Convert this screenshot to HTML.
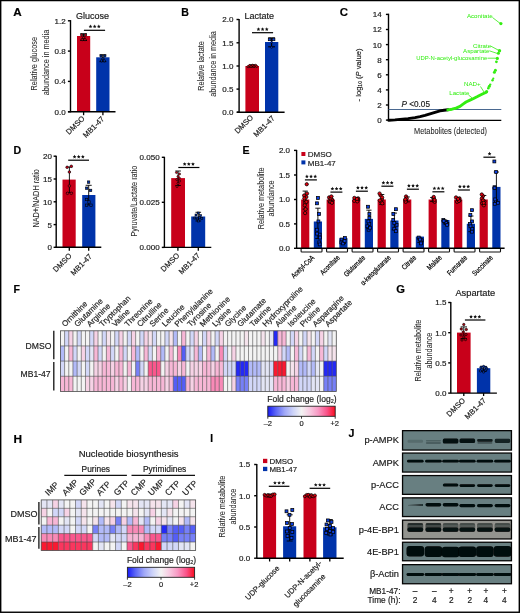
<!DOCTYPE html>
<html><head><meta charset="utf-8"><style>
html,body{margin:0;padding:0;background:#fff;}
body{width:520px;height:613px;overflow:hidden;position:relative;}
svg{position:absolute;left:0;top:0;will-change:transform;}
text{font-family:"Liberation Sans",sans-serif;}
</style></head><body>
<svg width="520" height="613" viewBox="0 0 520 613" font-family="Liberation Sans, sans-serif">
<text transform="translate(13.3,16.2) scale(1.1,1)" font-size="10.6" text-anchor="start" fill="#000" font-weight="bold" stroke="#000" stroke-width="0.18">A</text>
<text transform="translate(75.9,18.8)" font-size="9" text-anchor="start" fill="#1a1a1a" stroke="#1a1a1a" stroke-width="0.18">Glucose</text>
<rect x="77" y="36" width="13.2" height="75.8" fill="#c8001a"/>
<rect x="96.2" y="57.3" width="13.3" height="54.5" fill="#0033aa"/>
<line x1="70.5" y1="20.1" x2="70.5" y2="112.3" stroke="#000" stroke-width="1.4"/>
<line x1="67.9" y1="20.8" x2="70.5" y2="20.8" stroke="#000" stroke-width="1.4"/>
<text transform="translate(65.6,23.7)" font-size="8" text-anchor="end" fill="#1a1a1a" stroke="#1a1a1a" stroke-width="0.18">1.2</text>
<line x1="67.9" y1="51.1" x2="70.5" y2="51.1" stroke="#000" stroke-width="1.4"/>
<text transform="translate(65.6,54)" font-size="8" text-anchor="end" fill="#1a1a1a" stroke="#1a1a1a" stroke-width="0.18">0.8</text>
<line x1="67.9" y1="81.4" x2="70.5" y2="81.4" stroke="#000" stroke-width="1.4"/>
<text transform="translate(65.6,84.3)" font-size="8" text-anchor="end" fill="#1a1a1a" stroke="#1a1a1a" stroke-width="0.18">0.4</text>
<line x1="67.9" y1="111.7" x2="70.5" y2="111.7" stroke="#000" stroke-width="1.4"/>
<text transform="translate(65.6,114.6)" font-size="8" text-anchor="end" fill="#1a1a1a" stroke="#1a1a1a" stroke-width="0.18">0.0</text>
<line x1="68" y1="111.8" x2="115.5" y2="111.8" stroke="#000" stroke-width="1.4"/>
<line x1="83.6" y1="111.8" x2="83.6" y2="115.2" stroke="#000" stroke-width="1.3"/>
<line x1="102.9" y1="111.8" x2="102.9" y2="115.2" stroke="#000" stroke-width="1.3"/>
<line x1="83.9" y1="30.3" x2="105.1" y2="30.3" stroke="#000" stroke-width="1.2"/>
<polygon points="90.50,24.55 91.06,25.73 92.35,25.90 91.40,26.79 91.65,28.08 90.50,27.45 89.35,28.08 89.60,26.79 88.65,25.90 89.94,25.73" fill="#111"/>
<polygon points="94.65,24.55 95.21,25.73 96.50,25.90 95.55,26.79 95.80,28.08 94.65,27.45 93.50,28.08 93.75,26.79 92.80,25.90 94.09,25.73" fill="#111"/>
<polygon points="98.80,24.55 99.36,25.73 100.65,25.90 99.70,26.79 99.95,28.08 98.80,27.45 97.65,28.08 97.90,26.79 96.95,25.90 98.24,25.73" fill="#111"/>
<line x1="83.6" y1="33.8" x2="83.6" y2="40.4" stroke="#000" stroke-width="1.1"/>
<line x1="80.2" y1="33.8" x2="87" y2="33.8" stroke="#000" stroke-width="1.1"/>
<line x1="80.2" y1="40.4" x2="87" y2="40.4" stroke="#000" stroke-width="1.1"/>
<circle cx="81.7" cy="35" r="1.2" fill="#c8001a" stroke="#000" stroke-width="0.65"/>
<circle cx="85.5" cy="35" r="1.2" fill="#c8001a" stroke="#000" stroke-width="0.65"/>
<circle cx="83.6" cy="37.6" r="1.2" fill="#c8001a" stroke="#000" stroke-width="0.65"/>
<circle cx="82.2" cy="39.6" r="1.2" fill="#c8001a" stroke="#000" stroke-width="0.65"/>
<circle cx="85" cy="39.6" r="1.2" fill="#c8001a" stroke="#000" stroke-width="0.65"/>
<line x1="102.9" y1="54.8" x2="102.9" y2="61.6" stroke="#000" stroke-width="1.1"/>
<line x1="99.5" y1="54.8" x2="106.3" y2="54.8" stroke="#000" stroke-width="1.1"/>
<line x1="99.5" y1="61.6" x2="106.3" y2="61.6" stroke="#000" stroke-width="1.1"/>
<circle cx="101" cy="56" r="1.2" fill="#0033aa" stroke="#000" stroke-width="0.65"/>
<circle cx="104.8" cy="56" r="1.2" fill="#0033aa" stroke="#000" stroke-width="0.65"/>
<circle cx="102.9" cy="58.8" r="1.2" fill="#0033aa" stroke="#000" stroke-width="0.65"/>
<circle cx="101.5" cy="60.8" r="1.2" fill="#0033aa" stroke="#000" stroke-width="0.65"/>
<circle cx="104.3" cy="60.8" r="1.2" fill="#0033aa" stroke="#000" stroke-width="0.65"/>
<text transform="translate(37,63.7) rotate(-90) scale(0.81,1)" font-size="9" text-anchor="middle" fill="#2a2a2a" stroke="#2a2a2a" stroke-width="0.06">Relative glucose</text>
<text transform="translate(48.6,62.5) rotate(-90) scale(0.81,1)" font-size="9" text-anchor="middle" fill="#2a2a2a" stroke="#2a2a2a" stroke-width="0.06">abundance in media</text>
<text transform="translate(85.2,119) rotate(-45)" font-size="7.6" text-anchor="end" fill="#1a1a1a" stroke="#1a1a1a" stroke-width="0.18">DMSO</text>
<text transform="translate(104.8,119.5) rotate(-45)" font-size="7.6" text-anchor="end" fill="#1a1a1a" stroke="#1a1a1a" stroke-width="0.18">MB1-47</text>
<text transform="translate(181.3,15.8)" font-size="10.6" text-anchor="start" fill="#000" font-weight="bold" stroke="#000" stroke-width="0.18">B</text>
<text transform="translate(244.6,18.8)" font-size="9" text-anchor="start" fill="#1a1a1a" stroke="#1a1a1a" stroke-width="0.18">Lactate</text>
<rect x="245.4" y="66" width="13.6" height="46.2" fill="#c8001a"/>
<rect x="265" y="42" width="13.3" height="70.2" fill="#0033aa"/>
<line x1="239.1" y1="19" x2="239.1" y2="112.7" stroke="#000" stroke-width="1.4"/>
<line x1="236.5" y1="19.5" x2="239.1" y2="19.5" stroke="#000" stroke-width="1.4"/>
<text transform="translate(233.4,22.4)" font-size="8" text-anchor="end" fill="#1a1a1a" stroke="#1a1a1a" stroke-width="0.18">2.0</text>
<line x1="236.5" y1="42.8" x2="239.1" y2="42.8" stroke="#000" stroke-width="1.4"/>
<text transform="translate(233.4,45.7)" font-size="8" text-anchor="end" fill="#1a1a1a" stroke="#1a1a1a" stroke-width="0.18">1.5</text>
<line x1="236.5" y1="66" x2="239.1" y2="66" stroke="#000" stroke-width="1.4"/>
<text transform="translate(233.4,68.9)" font-size="8" text-anchor="end" fill="#1a1a1a" stroke="#1a1a1a" stroke-width="0.18">1.0</text>
<line x1="236.5" y1="89.1" x2="239.1" y2="89.1" stroke="#000" stroke-width="1.4"/>
<text transform="translate(233.4,92)" font-size="8" text-anchor="end" fill="#1a1a1a" stroke="#1a1a1a" stroke-width="0.18">0.5</text>
<line x1="236.5" y1="112.2" x2="239.1" y2="112.2" stroke="#000" stroke-width="1.4"/>
<text transform="translate(233.4,115.1)" font-size="8" text-anchor="end" fill="#1a1a1a" stroke="#1a1a1a" stroke-width="0.18">0.0</text>
<line x1="237" y1="112.2" x2="284.6" y2="112.2" stroke="#000" stroke-width="1.4"/>
<line x1="252" y1="32.7" x2="273.1" y2="32.7" stroke="#000" stroke-width="1.2"/>
<polygon points="258.45,27.35 259.01,28.53 260.30,28.70 259.35,29.59 259.60,30.88 258.45,30.25 257.30,30.88 257.55,29.59 256.60,28.70 257.89,28.53" fill="#111"/>
<polygon points="262.60,27.35 263.16,28.53 264.45,28.70 263.50,29.59 263.75,30.88 262.60,30.25 261.45,30.88 261.70,29.59 260.75,28.70 262.04,28.53" fill="#111"/>
<polygon points="266.75,27.35 267.31,28.53 268.60,28.70 267.65,29.59 267.90,30.88 266.75,30.25 265.60,30.88 265.85,29.59 264.90,28.70 266.19,28.53" fill="#111"/>
<line x1="252.1" y1="64.8" x2="252.1" y2="67" stroke="#000" stroke-width="1"/>
<line x1="249.1" y1="64.8" x2="255.1" y2="64.8" stroke="#000" stroke-width="1"/>
<line x1="249.1" y1="67" x2="255.1" y2="67" stroke="#000" stroke-width="1"/>
<circle cx="248.1" cy="66.6" r="1.15" fill="#d00010" stroke="#000" stroke-width="0.6"/>
<circle cx="249.6" cy="65.6" r="1.15" fill="#d00010" stroke="#000" stroke-width="0.6"/>
<circle cx="251.1" cy="66.4" r="1.15" fill="#d00010" stroke="#000" stroke-width="0.6"/>
<circle cx="252.6" cy="65.3" r="1.15" fill="#d00010" stroke="#000" stroke-width="0.6"/>
<circle cx="254.1" cy="66.2" r="1.15" fill="#d00010" stroke="#000" stroke-width="0.6"/>
<circle cx="255.6" cy="65.4" r="1.15" fill="#d00010" stroke="#000" stroke-width="0.6"/>
<circle cx="256.6" cy="66.4" r="1.15" fill="#d00010" stroke="#000" stroke-width="0.6"/>
<line x1="271.6" y1="37.9" x2="271.6" y2="46.8" stroke="#000" stroke-width="1.1"/>
<line x1="268.2" y1="37.9" x2="275" y2="37.9" stroke="#000" stroke-width="1.1"/>
<line x1="268.2" y1="46.8" x2="275" y2="46.8" stroke="#000" stroke-width="1.1"/>
<rect x="268.3" y="38.1" width="2.6" height="2.6" fill="#0a3ee0" stroke="#000" stroke-width="0.7"/>
<rect x="272.3" y="38.1" width="2.6" height="2.6" fill="#0a3ee0" stroke="#000" stroke-width="0.7"/>
<circle cx="271.6" cy="47.3" r="1" fill="#0a3ee0" stroke="#000" stroke-width="0.6"/>
<circle cx="271.6" cy="42.2" r="0.9" fill="#0a3ee0" stroke="#000" stroke-width="0.5"/>
<text transform="translate(204.1,66) rotate(-90) scale(0.81,1)" font-size="9" text-anchor="middle" fill="#2a2a2a" stroke="#2a2a2a" stroke-width="0.06">Relative lactate</text>
<text transform="translate(215.5,64) rotate(-90) scale(0.81,1)" font-size="9" text-anchor="middle" fill="#2a2a2a" stroke="#2a2a2a" stroke-width="0.06">abundance in media</text>
<text transform="translate(253.8,118) rotate(-45)" font-size="7.6" text-anchor="end" fill="#1a1a1a" stroke="#1a1a1a" stroke-width="0.18">DMSO</text>
<text transform="translate(275.3,118.7) rotate(-45)" font-size="7.6" text-anchor="end" fill="#1a1a1a" stroke="#1a1a1a" stroke-width="0.18">MB1-47</text>
<text transform="translate(339.8,16) scale(1.08,1)" font-size="10.6" text-anchor="start" fill="#000" font-weight="bold" stroke="#000" stroke-width="0.18">C</text>
<line x1="388.5" y1="13.7" x2="388.5" y2="120.8" stroke="#000" stroke-width="1.4"/>
<line x1="385.9" y1="14.4" x2="388.5" y2="14.4" stroke="#000" stroke-width="1.4"/>
<text transform="translate(381.6,17.3)" font-size="8" text-anchor="end" fill="#1a1a1a" stroke="#1a1a1a" stroke-width="0.18">14</text>
<line x1="385.9" y1="29.5" x2="388.5" y2="29.5" stroke="#000" stroke-width="1.4"/>
<text transform="translate(381.6,32.4)" font-size="8" text-anchor="end" fill="#1a1a1a" stroke="#1a1a1a" stroke-width="0.18">12</text>
<line x1="385.9" y1="44.6" x2="388.5" y2="44.6" stroke="#000" stroke-width="1.4"/>
<text transform="translate(381.6,47.5)" font-size="8" text-anchor="end" fill="#1a1a1a" stroke="#1a1a1a" stroke-width="0.18">10</text>
<line x1="385.9" y1="59.7" x2="388.5" y2="59.7" stroke="#000" stroke-width="1.4"/>
<text transform="translate(381.6,62.6)" font-size="8" text-anchor="end" fill="#1a1a1a" stroke="#1a1a1a" stroke-width="0.18">8</text>
<line x1="385.9" y1="74.8" x2="388.5" y2="74.8" stroke="#000" stroke-width="1.4"/>
<text transform="translate(381.6,77.7)" font-size="8" text-anchor="end" fill="#1a1a1a" stroke="#1a1a1a" stroke-width="0.18">6</text>
<line x1="385.9" y1="89.9" x2="388.5" y2="89.9" stroke="#000" stroke-width="1.4"/>
<text transform="translate(381.6,92.8)" font-size="8" text-anchor="end" fill="#1a1a1a" stroke="#1a1a1a" stroke-width="0.18">4</text>
<line x1="385.9" y1="105" x2="388.5" y2="105" stroke="#000" stroke-width="1.4"/>
<text transform="translate(381.6,107.9)" font-size="8" text-anchor="end" fill="#1a1a1a" stroke="#1a1a1a" stroke-width="0.18">2</text>
<line x1="385.9" y1="120.1" x2="388.5" y2="120.1" stroke="#000" stroke-width="1.4"/>
<text transform="translate(381.6,123)" font-size="8" text-anchor="end" fill="#1a1a1a" stroke="#1a1a1a" stroke-width="0.18">0</text>
<line x1="388.5" y1="120.3" x2="501.3" y2="120.3" stroke="#000" stroke-width="1.3"/>
<line x1="388.5" y1="109.5" x2="501.3" y2="109.5" stroke="#4a6890" stroke-width="1"/>
<text transform="translate(360.5,75) rotate(-90)" font-size="7.6" text-anchor="middle" fill="#222" stroke="#222" stroke-width="0.18">- log<tspan font-size="5" dy="1.5">10</tspan><tspan dy="-1.5"> (</tspan><tspan font-style="italic">P</tspan> value)</text>
<text transform="translate(401.5,107.2)" font-size="8.2" text-anchor="start" fill="#222" stroke="#222" stroke-width="0.18"><tspan font-style="italic">P</tspan> &lt;0.05</text>
<text transform="translate(450.5,133.5) scale(0.82,1)" font-size="9" text-anchor="middle" fill="#222" stroke="#222" stroke-width="0.06">Metabolites (detected)</text>
<polyline points="388.8,120.3 395.0,119.9 400.0,119.4 408.0,118.6 415.0,117.6 420.0,116.6 425.0,115.3 430.0,113.8 435.0,112.3 440.0,110.9 444.0,110.2 448.2,109.7" fill="none" stroke="#000" stroke-width="2.9" stroke-linecap="round" stroke-linejoin="round"/>
<polyline points="447.8,109.9 452.0,109.2 456.0,108.1 460.0,106.4 463.0,104.1 466.0,102.0 470.0,100.1 473.6,98.5 477.0,96.8 480.4,95.0 483.5,93.5 486.4,92.2" fill="none" stroke="#33ee11" stroke-width="2.9" stroke-linecap="round" stroke-linejoin="round"/>
<circle cx="486.6" cy="91.6" r="1.6" fill="#33ee11" stroke="none" stroke-width="0"/>
<circle cx="488.3" cy="88.2" r="1.3" fill="#33ee11" stroke="none" stroke-width="0"/>
<circle cx="489.3" cy="86.2" r="1.5" fill="#33ee11" stroke="none" stroke-width="0"/>
<circle cx="490.2" cy="84.6" r="1.2" fill="#33ee11" stroke="none" stroke-width="0"/>
<circle cx="492.5" cy="80.2" r="1.2" fill="#33ee11" stroke="none" stroke-width="0"/>
<circle cx="493.3" cy="78.6" r="1.1" fill="#33ee11" stroke="none" stroke-width="0"/>
<circle cx="494.4" cy="72.3" r="1.5" fill="#33ee11" stroke="none" stroke-width="0"/>
<circle cx="495.4" cy="70.2" r="1.5" fill="#33ee11" stroke="none" stroke-width="0"/>
<circle cx="496.4" cy="61.8" r="1.4" fill="#33ee11" stroke="none" stroke-width="0"/>
<circle cx="497.3" cy="58.4" r="1.6" fill="#33ee11" stroke="none" stroke-width="0"/>
<circle cx="498.4" cy="53.2" r="1.5" fill="#33ee11" stroke="none" stroke-width="0"/>
<circle cx="499.5" cy="50.8" r="1.7" fill="#33ee11" stroke="none" stroke-width="0"/>
<circle cx="500.9" cy="23.6" r="1.6" fill="#33ee11" stroke="none" stroke-width="0"/>
<text transform="translate(466.9,18.2)" font-size="6.2" text-anchor="start" fill="#33ee11" stroke="#33ee11" stroke-width="0.01">Aconitate</text>
<line x1="492.5" y1="17.5" x2="500" y2="23.3" stroke="#33ee11" stroke-width="0.8"/>
<text transform="translate(473,47.6)" font-size="6.2" text-anchor="start" fill="#33ee11" stroke="#33ee11" stroke-width="0.01">Citrate</text>
<line x1="490.6" y1="46" x2="499.2" y2="50.6" stroke="#33ee11" stroke-width="0.8"/>
<text transform="translate(463,52.5)" font-size="6.2" text-anchor="start" fill="#33ee11" stroke="#33ee11" stroke-width="0.01">Aspartate</text>
<line x1="489.3" y1="50.8" x2="497.8" y2="53.6" stroke="#33ee11" stroke-width="0.8"/>
<text transform="translate(487.2,60.2)" font-size="5.9" text-anchor="end" fill="#33ee11" stroke="#33ee11" stroke-width="0.01">UDP-N-acetyl-glucosamine</text>
<line x1="487.5" y1="58.2" x2="496.8" y2="58.2" stroke="#33ee11" stroke-width="0.8"/>
<text transform="translate(464,86.2)" font-size="6.2" text-anchor="start" fill="#33ee11" stroke="#33ee11" stroke-width="0.01">NAD+</text>
<line x1="480.5" y1="86.5" x2="484" y2="92" stroke="#33ee11" stroke-width="0.8"/>
<text transform="translate(449.2,94.8)" font-size="6.2" text-anchor="start" fill="#33ee11" stroke="#33ee11" stroke-width="0.01">Lactate</text>
<line x1="468.5" y1="95" x2="472.5" y2="98.2" stroke="#33ee11" stroke-width="0.8"/>
<text transform="translate(13.6,154)" font-size="10.6" text-anchor="start" fill="#000" font-weight="bold" stroke="#000" stroke-width="0.18">D</text>
<rect x="62.5" y="179.6" width="13.2" height="67.7" fill="#c8001a"/>
<rect x="82.2" y="195" width="13.2" height="52.3" fill="#0033aa"/>
<line x1="56.2" y1="155.7" x2="56.2" y2="247.8" stroke="#000" stroke-width="1.4"/>
<line x1="53.6" y1="156.2" x2="56.2" y2="156.2" stroke="#000" stroke-width="1.4"/>
<text transform="translate(52,159.1)" font-size="8" text-anchor="end" fill="#1a1a1a" stroke="#1a1a1a" stroke-width="0.18">20</text>
<line x1="53.6" y1="179" x2="56.2" y2="179" stroke="#000" stroke-width="1.4"/>
<text transform="translate(52,181.9)" font-size="8" text-anchor="end" fill="#1a1a1a" stroke="#1a1a1a" stroke-width="0.18">15</text>
<line x1="53.6" y1="201.8" x2="56.2" y2="201.8" stroke="#000" stroke-width="1.4"/>
<text transform="translate(52,204.7)" font-size="8" text-anchor="end" fill="#1a1a1a" stroke="#1a1a1a" stroke-width="0.18">10</text>
<line x1="53.6" y1="224.6" x2="56.2" y2="224.6" stroke="#000" stroke-width="1.4"/>
<text transform="translate(52,227.5)" font-size="8" text-anchor="end" fill="#1a1a1a" stroke="#1a1a1a" stroke-width="0.18">5</text>
<line x1="53.6" y1="247.3" x2="56.2" y2="247.3" stroke="#000" stroke-width="1.4"/>
<text transform="translate(52,250.2)" font-size="8" text-anchor="end" fill="#1a1a1a" stroke="#1a1a1a" stroke-width="0.18">0</text>
<line x1="55.5" y1="247.3" x2="101.3" y2="247.3" stroke="#000" stroke-width="1.4"/>
<line x1="69.3" y1="247.3" x2="69.3" y2="250.7" stroke="#000" stroke-width="1.3"/>
<line x1="88.7" y1="247.3" x2="88.7" y2="250.7" stroke="#000" stroke-width="1.3"/>
<line x1="68.2" y1="160.2" x2="89" y2="160.2" stroke="#000" stroke-width="1.2"/>
<polygon points="74.55,154.85 75.11,156.03 76.40,156.20 75.45,157.09 75.70,158.38 74.55,157.75 73.40,158.38 73.65,157.09 72.70,156.20 73.99,156.03" fill="#111"/>
<polygon points="78.70,154.85 79.26,156.03 80.55,156.20 79.60,157.09 79.85,158.38 78.70,157.75 77.55,158.38 77.80,157.09 76.85,156.20 78.14,156.03" fill="#111"/>
<polygon points="82.85,154.85 83.41,156.03 84.70,156.20 83.75,157.09 84.00,158.38 82.85,157.75 81.70,158.38 81.95,157.09 81.00,156.20 82.29,156.03" fill="#111"/>
<line x1="69.4" y1="167" x2="69.4" y2="192.5" stroke="#000" stroke-width="0.9"/>
<line x1="66.4" y1="167" x2="72.4" y2="167" stroke="#000" stroke-width="0.9"/>
<line x1="66.4" y1="192.5" x2="72.4" y2="192.5" stroke="#000" stroke-width="0.9"/>
<circle cx="67.1" cy="167.3" r="1.3" fill="#c8001a" stroke="#000" stroke-width="0.6"/>
<circle cx="71.3" cy="166.3" r="1.3" fill="#c8001a" stroke="#000" stroke-width="0.6"/>
<circle cx="69.4" cy="172" r="1.3" fill="#c8001a" stroke="#000" stroke-width="0.6"/>
<circle cx="69.4" cy="185.9" r="1.3" fill="#c8001a" stroke="#000" stroke-width="0.6"/>
<circle cx="67.5" cy="193.3" r="1.3" fill="#c8001a" stroke="#000" stroke-width="0.6"/>
<circle cx="71.3" cy="193.3" r="1.3" fill="#c8001a" stroke="#000" stroke-width="0.6"/>
<line x1="88.7" y1="185.3" x2="88.7" y2="205" stroke="#000" stroke-width="0.9"/>
<line x1="85.7" y1="185.3" x2="91.7" y2="185.3" stroke="#000" stroke-width="0.9"/>
<line x1="85.7" y1="205" x2="91.7" y2="205" stroke="#000" stroke-width="0.9"/>
<rect x="87.4" y="180.9" width="2.4" height="2.4" fill="#0033aa" stroke="#000" stroke-width="0.6"/>
<rect x="85.5" y="187" width="2.4" height="2.4" fill="#0033aa" stroke="#000" stroke-width="0.6"/>
<rect x="89.4" y="189.2" width="2.4" height="2.4" fill="#0033aa" stroke="#000" stroke-width="0.6"/>
<rect x="85.4" y="198.3" width="2.4" height="2.4" fill="#0033aa" stroke="#000" stroke-width="0.6"/>
<rect x="87.8" y="200.8" width="2.4" height="2.4" fill="#0033aa" stroke="#000" stroke-width="0.6"/>
<rect x="85.4" y="204" width="2.4" height="2.4" fill="#0033aa" stroke="#000" stroke-width="0.6"/>
<rect x="89.8" y="204" width="2.4" height="2.4" fill="#0033aa" stroke="#000" stroke-width="0.6"/>
<text transform="translate(39.4,198.4) rotate(-90) scale(0.81,1)" font-size="9" text-anchor="middle" fill="#2a2a2a" stroke="#2a2a2a" stroke-width="0.06">NAD+/NADH ratio</text>
<text transform="translate(72.2,256.4) rotate(-45)" font-size="7.6" text-anchor="end" fill="#1a1a1a" stroke="#1a1a1a" stroke-width="0.18">DMSO</text>
<text transform="translate(92.5,257.1) rotate(-45)" font-size="7.6" text-anchor="end" fill="#1a1a1a" stroke="#1a1a1a" stroke-width="0.18">MB1-47</text>
<rect x="171.2" y="178.1" width="13.8" height="69.3" fill="#c8001a"/>
<rect x="191.2" y="216.5" width="14" height="30.9" fill="#0033aa"/>
<line x1="164.4" y1="156.8" x2="164.4" y2="247.9" stroke="#000" stroke-width="1.4"/>
<line x1="161.8" y1="157.3" x2="164.4" y2="157.3" stroke="#000" stroke-width="1.4"/>
<text transform="translate(159.6,160.2)" font-size="8" text-anchor="end" fill="#1a1a1a" stroke="#1a1a1a" stroke-width="0.18">0.050</text>
<line x1="161.8" y1="202.3" x2="164.4" y2="202.3" stroke="#000" stroke-width="1.4"/>
<text transform="translate(159.6,205.2)" font-size="8" text-anchor="end" fill="#1a1a1a" stroke="#1a1a1a" stroke-width="0.18">0.025</text>
<line x1="161.8" y1="247.4" x2="164.4" y2="247.4" stroke="#000" stroke-width="1.4"/>
<text transform="translate(159.6,250.3)" font-size="8" text-anchor="end" fill="#1a1a1a" stroke="#1a1a1a" stroke-width="0.18">0.000</text>
<line x1="163.3" y1="247.4" x2="211.3" y2="247.4" stroke="#000" stroke-width="1.4"/>
<line x1="177.9" y1="247.4" x2="177.9" y2="250.8" stroke="#000" stroke-width="1.3"/>
<line x1="198.3" y1="247.4" x2="198.3" y2="250.8" stroke="#000" stroke-width="1.3"/>
<line x1="178.3" y1="167.5" x2="199.4" y2="167.5" stroke="#000" stroke-width="1.2"/>
<polygon points="184.65,162.15 185.21,163.33 186.50,163.50 185.55,164.39 185.80,165.68 184.65,165.05 183.50,165.68 183.75,164.39 182.80,163.50 184.09,163.33" fill="#111"/>
<polygon points="188.80,162.15 189.36,163.33 190.65,163.50 189.70,164.39 189.95,165.68 188.80,165.05 187.65,165.68 187.90,164.39 186.95,163.50 188.24,163.33" fill="#111"/>
<polygon points="192.95,162.15 193.51,163.33 194.80,163.50 193.85,164.39 194.10,165.68 192.95,165.05 191.80,165.68 192.05,164.39 191.10,163.50 192.39,163.33" fill="#111"/>
<line x1="178.1" y1="171" x2="178.1" y2="185.5" stroke="#000" stroke-width="0.9"/>
<line x1="175.3" y1="171" x2="180.9" y2="171" stroke="#000" stroke-width="0.9"/>
<line x1="175.3" y1="185.5" x2="180.9" y2="185.5" stroke="#000" stroke-width="0.9"/>
<circle cx="176.5" cy="172.5" r="1.1" fill="#c8001a" stroke="#000" stroke-width="0.55"/>
<circle cx="179.5" cy="174" r="1.1" fill="#c8001a" stroke="#000" stroke-width="0.55"/>
<circle cx="178" cy="176.5" r="1.1" fill="#c8001a" stroke="#000" stroke-width="0.55"/>
<circle cx="176.8" cy="179.5" r="1.1" fill="#c8001a" stroke="#000" stroke-width="0.55"/>
<circle cx="179.6" cy="181" r="1.1" fill="#c8001a" stroke="#000" stroke-width="0.55"/>
<circle cx="178" cy="183.5" r="1.1" fill="#c8001a" stroke="#000" stroke-width="0.55"/>
<circle cx="177" cy="186.5" r="1.1" fill="#c8001a" stroke="#000" stroke-width="0.55"/>
<circle cx="179.3" cy="178" r="1.1" fill="#c8001a" stroke="#000" stroke-width="0.55"/>
<line x1="198.3" y1="212.3" x2="198.3" y2="221" stroke="#000" stroke-width="0.9"/>
<line x1="195.5" y1="212.3" x2="201.1" y2="212.3" stroke="#000" stroke-width="0.9"/>
<line x1="195.5" y1="221" x2="201.1" y2="221" stroke="#000" stroke-width="0.9"/>
<rect x="195" y="214" width="2" height="2" fill="#0033aa" stroke="#000" stroke-width="0.55"/>
<rect x="197.3" y="212" width="2" height="2" fill="#0033aa" stroke="#000" stroke-width="0.55"/>
<rect x="199.6" y="214.6" width="2" height="2" fill="#0033aa" stroke="#000" stroke-width="0.55"/>
<rect x="193.8" y="217" width="2" height="2" fill="#0033aa" stroke="#000" stroke-width="0.55"/>
<rect x="196.2" y="218" width="2" height="2" fill="#0033aa" stroke="#000" stroke-width="0.55"/>
<rect x="198.6" y="216.8" width="2" height="2" fill="#0033aa" stroke="#000" stroke-width="0.55"/>
<rect x="200.8" y="217.6" width="2" height="2" fill="#0033aa" stroke="#000" stroke-width="0.55"/>
<rect x="197.3" y="220" width="2" height="2" fill="#0033aa" stroke="#000" stroke-width="0.55"/>
<text transform="translate(137,201.1) rotate(-90) scale(0.81,1)" font-size="9" text-anchor="middle" fill="#2a2a2a" stroke="#2a2a2a" stroke-width="0.06">Pyruvate/Lactate ratio</text>
<text transform="translate(179.9,256.1) rotate(-45)" font-size="7.6" text-anchor="end" fill="#1a1a1a" stroke="#1a1a1a" stroke-width="0.18">DMSO</text>
<text transform="translate(200.5,256) rotate(-45)" font-size="7.6" text-anchor="end" fill="#1a1a1a" stroke="#1a1a1a" stroke-width="0.18">MB1-47</text>
<text transform="translate(242.6,153.6)" font-size="10.6" text-anchor="start" fill="#000" font-weight="bold" stroke="#000" stroke-width="0.18">E</text>
<line x1="296.6" y1="149.9" x2="296.6" y2="248.8" stroke="#000" stroke-width="1.4"/>
<line x1="294" y1="150.4" x2="296.6" y2="150.4" stroke="#000" stroke-width="1.4"/>
<text transform="translate(290,153.3)" font-size="8" text-anchor="end" fill="#1a1a1a" stroke="#1a1a1a" stroke-width="0.18">2.0</text>
<line x1="294" y1="175" x2="296.6" y2="175" stroke="#000" stroke-width="1.4"/>
<text transform="translate(290,177.9)" font-size="8" text-anchor="end" fill="#1a1a1a" stroke="#1a1a1a" stroke-width="0.18">1.5</text>
<line x1="294" y1="199.5" x2="296.6" y2="199.5" stroke="#000" stroke-width="1.4"/>
<text transform="translate(290,202.4)" font-size="8" text-anchor="end" fill="#1a1a1a" stroke="#1a1a1a" stroke-width="0.18">1.0</text>
<line x1="294" y1="223.9" x2="296.6" y2="223.9" stroke="#000" stroke-width="1.4"/>
<text transform="translate(290,226.8)" font-size="8" text-anchor="end" fill="#1a1a1a" stroke="#1a1a1a" stroke-width="0.18">0.5</text>
<line x1="294" y1="248.3" x2="296.6" y2="248.3" stroke="#000" stroke-width="1.4"/>
<text transform="translate(290,251.2)" font-size="8" text-anchor="end" fill="#1a1a1a" stroke="#1a1a1a" stroke-width="0.18">0.0</text>
<rect x="301.4" y="152" width="4" height="4" fill="#c8001a"/>
<text transform="translate(307.8,157.2)" font-size="8" text-anchor="start" fill="#222" stroke="#222" stroke-width="0.18">DMSO</text>
<rect x="301.4" y="160.4" width="4" height="4" fill="#0033aa"/>
<text transform="translate(307.8,165.5)" font-size="8" text-anchor="start" fill="#222" stroke="#222" stroke-width="0.18">MB1-47</text>
<rect x="301.1" y="199.5" width="8.2" height="48.8" fill="#c8001a"/>
<rect x="313.8" y="221.5" width="8.2" height="26.8" fill="#0033aa"/>
<line x1="305.2" y1="191.09" x2="305.2" y2="209.18" stroke="#000" stroke-width="0.9"/>
<line x1="302.6" y1="191.09" x2="307.8" y2="191.09" stroke="#000" stroke-width="0.9"/>
<line x1="302.6" y1="209.18" x2="307.8" y2="209.18" stroke="#000" stroke-width="0.9"/>
<line x1="317.9" y1="208.2" x2="317.9" y2="238.52" stroke="#000" stroke-width="0.9"/>
<line x1="315.3" y1="208.2" x2="320.5" y2="208.2" stroke="#000" stroke-width="0.9"/>
<line x1="315.3" y1="238.52" x2="320.5" y2="238.52" stroke="#000" stroke-width="0.9"/>
<circle cx="306.72" cy="184.24" r="1.65" fill="#e00010" stroke="#000" stroke-width="0.75"/>
<circle cx="306.33" cy="196.96" r="1.65" fill="#e00010" stroke="#000" stroke-width="0.75"/>
<circle cx="304.85" cy="200.38" r="1.65" fill="#e00010" stroke="#000" stroke-width="0.75"/>
<circle cx="304.14" cy="195.49" r="1.65" fill="#e00010" stroke="#000" stroke-width="0.75"/>
<circle cx="305.25" cy="202.82" r="1.65" fill="#e00010" stroke="#000" stroke-width="0.75"/>
<circle cx="304.78" cy="205.27" r="1.65" fill="#e00010" stroke="#000" stroke-width="0.75"/>
<circle cx="306.45" cy="201.85" r="1.65" fill="#e00010" stroke="#000" stroke-width="0.75"/>
<circle cx="304.33" cy="198.42" r="1.65" fill="#e00010" stroke="#000" stroke-width="0.75"/>
<circle cx="305.1" cy="213.09" r="1.65" fill="#e00010" stroke="#000" stroke-width="0.75"/>
<circle cx="305.57" cy="209.18" r="1.65" fill="#e00010" stroke="#000" stroke-width="0.75"/>
<circle cx="307" cy="193.53" r="1.65" fill="#e00010" stroke="#000" stroke-width="0.75"/>
<rect x="316.47" y="196.48" width="2.9" height="2.9" fill="#0a3ee0" stroke="#000" stroke-width="0.75"/>
<rect x="315.49" y="201.86" width="2.9" height="2.9" fill="#0a3ee0" stroke="#000" stroke-width="0.75"/>
<rect x="317.58" y="212.62" width="2.9" height="2.9" fill="#0a3ee0" stroke="#000" stroke-width="0.75"/>
<rect x="316.97" y="219.96" width="2.9" height="2.9" fill="#0a3ee0" stroke="#000" stroke-width="0.75"/>
<rect x="315.35" y="228.27" width="2.9" height="2.9" fill="#0a3ee0" stroke="#000" stroke-width="0.75"/>
<rect x="318.25" y="233.16" width="2.9" height="2.9" fill="#0a3ee0" stroke="#000" stroke-width="0.75"/>
<rect x="318.57" y="236.09" width="2.9" height="2.9" fill="#0a3ee0" stroke="#000" stroke-width="0.75"/>
<rect x="317.81" y="240.98" width="2.9" height="2.9" fill="#0a3ee0" stroke="#000" stroke-width="0.75"/>
<rect x="318.22" y="242.94" width="2.9" height="2.9" fill="#0a3ee0" stroke="#000" stroke-width="0.75"/>
<rect x="315.61" y="232.18" width="2.9" height="2.9" fill="#0a3ee0" stroke="#000" stroke-width="0.75"/>
<line x1="304.9" y1="179.9" x2="316.9" y2="179.9" stroke="#000" stroke-width="1.2"/>
<polygon points="306.90,174.55 307.46,175.73 308.75,175.90 307.80,176.79 308.05,178.08 306.90,177.45 305.75,178.08 306.00,176.79 305.05,175.90 306.34,175.73" fill="#111"/>
<polygon points="311.05,174.55 311.61,175.73 312.90,175.90 311.95,176.79 312.20,178.08 311.05,177.45 309.90,178.08 310.15,176.79 309.20,175.90 310.49,175.73" fill="#111"/>
<polygon points="315.20,174.55 315.76,175.73 317.05,175.90 316.10,176.79 316.35,178.08 315.20,177.45 314.05,178.08 314.30,176.79 313.35,175.90 314.64,175.73" fill="#111"/>
<path d="M301.1,248.3 V251.2 Q301.1,252 301.9,252 H321.2 Q322,252 322,251.2 V248.3" fill="none" stroke="#111" stroke-width="1.1"/>
<text transform="translate(314.7,258.2) rotate(-45) scale(0.8,1)" font-size="7.3" text-anchor="end" fill="#000" stroke="#000" stroke-width="0.2">Acetyl-CoA</text>
<rect x="326.6" y="199.5" width="8.2" height="48.8" fill="#c8001a"/>
<rect x="339.3" y="238.2" width="8.2" height="10.1" fill="#0033aa"/>
<line x1="330.7" y1="196.47" x2="330.7" y2="202.82" stroke="#000" stroke-width="0.9"/>
<line x1="328.1" y1="196.47" x2="333.3" y2="196.47" stroke="#000" stroke-width="0.9"/>
<line x1="328.1" y1="202.82" x2="333.3" y2="202.82" stroke="#000" stroke-width="0.9"/>
<line x1="343.4" y1="238.52" x2="343.4" y2="243.41" stroke="#000" stroke-width="0.9"/>
<line x1="340.8" y1="238.52" x2="346" y2="238.52" stroke="#000" stroke-width="0.9"/>
<line x1="340.8" y1="243.41" x2="346" y2="243.41" stroke="#000" stroke-width="0.9"/>
<circle cx="329.09" cy="197.44" r="1.65" fill="#e00010" stroke="#000" stroke-width="0.75"/>
<circle cx="332.23" cy="200.38" r="1.65" fill="#e00010" stroke="#000" stroke-width="0.75"/>
<circle cx="331.86" cy="199.4" r="1.65" fill="#e00010" stroke="#000" stroke-width="0.75"/>
<circle cx="329.62" cy="200.87" r="1.65" fill="#e00010" stroke="#000" stroke-width="0.75"/>
<circle cx="330.68" cy="198.42" r="1.65" fill="#e00010" stroke="#000" stroke-width="0.75"/>
<circle cx="330.48" cy="201.85" r="1.65" fill="#e00010" stroke="#000" stroke-width="0.75"/>
<circle cx="331.37" cy="196.47" r="1.65" fill="#e00010" stroke="#000" stroke-width="0.75"/>
<circle cx="331.97" cy="202.82" r="1.65" fill="#e00010" stroke="#000" stroke-width="0.75"/>
<rect x="340.16" y="238.05" width="2.9" height="2.9" fill="#0a3ee0" stroke="#000" stroke-width="0.75"/>
<rect x="339.87" y="240.98" width="2.9" height="2.9" fill="#0a3ee0" stroke="#000" stroke-width="0.75"/>
<rect x="343.43" y="236.58" width="2.9" height="2.9" fill="#0a3ee0" stroke="#000" stroke-width="0.75"/>
<rect x="341.65" y="241.96" width="2.9" height="2.9" fill="#0a3ee0" stroke="#000" stroke-width="0.75"/>
<rect x="343.1" y="239.52" width="2.9" height="2.9" fill="#0a3ee0" stroke="#000" stroke-width="0.75"/>
<line x1="330.4" y1="192.1" x2="342.4" y2="192.1" stroke="#000" stroke-width="1.2"/>
<polygon points="332.40,186.75 332.96,187.93 334.25,188.10 333.30,188.99 333.55,190.28 332.40,189.65 331.25,190.28 331.50,188.99 330.55,188.10 331.84,187.93" fill="#111"/>
<polygon points="336.55,186.75 337.11,187.93 338.40,188.10 337.45,188.99 337.70,190.28 336.55,189.65 335.40,190.28 335.65,188.99 334.70,188.10 335.99,187.93" fill="#111"/>
<polygon points="340.70,186.75 341.26,187.93 342.55,188.10 341.60,188.99 341.85,190.28 340.70,189.65 339.55,190.28 339.80,188.99 338.85,188.10 340.14,187.93" fill="#111"/>
<path d="M326.6,248.3 V251.2 Q326.6,252 327.4,252 H346.7 Q347.5,252 347.5,251.2 V248.3" fill="none" stroke="#111" stroke-width="1.1"/>
<text transform="translate(340.2,258.2) rotate(-45) scale(0.8,1)" font-size="7.3" text-anchor="end" fill="#000" stroke="#000" stroke-width="0.2">Aconitate</text>
<rect x="352.1" y="199.5" width="8.2" height="48.8" fill="#c8001a"/>
<rect x="364.8" y="218.9" width="8.2" height="29.4" fill="#0033aa"/>
<line x1="356.2" y1="197.44" x2="356.2" y2="201.36" stroke="#000" stroke-width="0.9"/>
<line x1="353.6" y1="197.44" x2="358.8" y2="197.44" stroke="#000" stroke-width="0.9"/>
<line x1="353.6" y1="201.36" x2="358.8" y2="201.36" stroke="#000" stroke-width="0.9"/>
<line x1="368.9" y1="210.16" x2="368.9" y2="228.74" stroke="#000" stroke-width="0.9"/>
<line x1="366.3" y1="210.16" x2="371.5" y2="210.16" stroke="#000" stroke-width="0.9"/>
<line x1="366.3" y1="228.74" x2="371.5" y2="228.74" stroke="#000" stroke-width="0.9"/>
<circle cx="358.21" cy="198.42" r="1.65" fill="#e00010" stroke="#000" stroke-width="0.75"/>
<circle cx="358.17" cy="199.89" r="1.65" fill="#e00010" stroke="#000" stroke-width="0.75"/>
<circle cx="354.25" cy="200.87" r="1.65" fill="#e00010" stroke="#000" stroke-width="0.75"/>
<circle cx="354.37" cy="197.93" r="1.65" fill="#e00010" stroke="#000" stroke-width="0.75"/>
<circle cx="357.68" cy="199.4" r="1.65" fill="#e00010" stroke="#000" stroke-width="0.75"/>
<circle cx="357.24" cy="201.36" r="1.65" fill="#e00010" stroke="#000" stroke-width="0.75"/>
<circle cx="356.95" cy="198.91" r="1.65" fill="#e00010" stroke="#000" stroke-width="0.75"/>
<rect x="366.61" y="205.29" width="2.9" height="2.9" fill="#0a3ee0" stroke="#000" stroke-width="0.75"/>
<rect x="367.92" y="212.62" width="2.9" height="2.9" fill="#0a3ee0" stroke="#000" stroke-width="0.75"/>
<rect x="367.92" y="216.53" width="2.9" height="2.9" fill="#0a3ee0" stroke="#000" stroke-width="0.75"/>
<rect x="367.81" y="222.4" width="2.9" height="2.9" fill="#0a3ee0" stroke="#000" stroke-width="0.75"/>
<rect x="365.95" y="224.85" width="2.9" height="2.9" fill="#0a3ee0" stroke="#000" stroke-width="0.75"/>
<rect x="367.14" y="228.27" width="2.9" height="2.9" fill="#0a3ee0" stroke="#000" stroke-width="0.75"/>
<rect x="366.98" y="219.96" width="2.9" height="2.9" fill="#0a3ee0" stroke="#000" stroke-width="0.75"/>
<rect x="368.43" y="226.31" width="2.9" height="2.9" fill="#0a3ee0" stroke="#000" stroke-width="0.75"/>
<line x1="355.9" y1="191.2" x2="367.9" y2="191.2" stroke="#000" stroke-width="1.2"/>
<polygon points="357.90,185.85 358.46,187.03 359.75,187.20 358.80,188.09 359.05,189.38 357.90,188.75 356.75,189.38 357.00,188.09 356.05,187.20 357.34,187.03" fill="#111"/>
<polygon points="362.05,185.85 362.61,187.03 363.90,187.20 362.95,188.09 363.20,189.38 362.05,188.75 360.90,189.38 361.15,188.09 360.20,187.20 361.49,187.03" fill="#111"/>
<polygon points="366.20,185.85 366.76,187.03 368.05,187.20 367.10,188.09 367.35,189.38 366.20,188.75 365.05,189.38 365.30,188.09 364.35,187.20 365.64,187.03" fill="#111"/>
<path d="M352.1,248.3 V251.2 Q352.1,252 352.9,252 H372.2 Q373,252 373,251.2 V248.3" fill="none" stroke="#111" stroke-width="1.1"/>
<text transform="translate(365.7,258.2) rotate(-45) scale(0.8,1)" font-size="7.3" text-anchor="end" fill="#000" stroke="#000" stroke-width="0.2">Glutamate</text>
<rect x="377.6" y="199.5" width="8.2" height="48.8" fill="#c8001a"/>
<rect x="390.3" y="220.5" width="8.2" height="27.8" fill="#0033aa"/>
<line x1="381.7" y1="194.51" x2="381.7" y2="204.29" stroke="#000" stroke-width="0.9"/>
<line x1="379.1" y1="194.51" x2="384.3" y2="194.51" stroke="#000" stroke-width="0.9"/>
<line x1="379.1" y1="204.29" x2="384.3" y2="204.29" stroke="#000" stroke-width="0.9"/>
<line x1="394.4" y1="213.09" x2="394.4" y2="229.72" stroke="#000" stroke-width="0.9"/>
<line x1="391.8" y1="213.09" x2="397" y2="213.09" stroke="#000" stroke-width="0.9"/>
<line x1="391.8" y1="229.72" x2="397" y2="229.72" stroke="#000" stroke-width="0.9"/>
<circle cx="380.55" cy="195.49" r="1.65" fill="#e00010" stroke="#000" stroke-width="0.75"/>
<circle cx="381.89" cy="199.4" r="1.65" fill="#e00010" stroke="#000" stroke-width="0.75"/>
<circle cx="381.13" cy="201.85" r="1.65" fill="#e00010" stroke="#000" stroke-width="0.75"/>
<circle cx="382.16" cy="197.44" r="1.65" fill="#e00010" stroke="#000" stroke-width="0.75"/>
<circle cx="382.25" cy="203.31" r="1.65" fill="#e00010" stroke="#000" stroke-width="0.75"/>
<circle cx="379.79" cy="200.38" r="1.65" fill="#e00010" stroke="#000" stroke-width="0.75"/>
<circle cx="379.56" cy="193.53" r="1.65" fill="#e00010" stroke="#000" stroke-width="0.75"/>
<rect x="394.43" y="207.73" width="2.9" height="2.9" fill="#0a3ee0" stroke="#000" stroke-width="0.75"/>
<rect x="391.89" y="212.62" width="2.9" height="2.9" fill="#0a3ee0" stroke="#000" stroke-width="0.75"/>
<rect x="391.78" y="218.49" width="2.9" height="2.9" fill="#0a3ee0" stroke="#000" stroke-width="0.75"/>
<rect x="395.13" y="223.38" width="2.9" height="2.9" fill="#0a3ee0" stroke="#000" stroke-width="0.75"/>
<rect x="392.82" y="227.29" width="2.9" height="2.9" fill="#0a3ee0" stroke="#000" stroke-width="0.75"/>
<rect x="394.43" y="229.74" width="2.9" height="2.9" fill="#0a3ee0" stroke="#000" stroke-width="0.75"/>
<rect x="392.85" y="221.42" width="2.9" height="2.9" fill="#0a3ee0" stroke="#000" stroke-width="0.75"/>
<line x1="381.4" y1="186.2" x2="393.4" y2="186.2" stroke="#000" stroke-width="1.2"/>
<polygon points="383.40,180.85 383.96,182.03 385.25,182.20 384.30,183.09 384.55,184.38 383.40,183.75 382.25,184.38 382.50,183.09 381.55,182.20 382.84,182.03" fill="#111"/>
<polygon points="387.55,180.85 388.11,182.03 389.40,182.20 388.45,183.09 388.70,184.38 387.55,183.75 386.40,184.38 386.65,183.09 385.70,182.20 386.99,182.03" fill="#111"/>
<polygon points="391.70,180.85 392.26,182.03 393.55,182.20 392.60,183.09 392.85,184.38 391.70,183.75 390.55,184.38 390.80,183.09 389.85,182.20 391.14,182.03" fill="#111"/>
<path d="M377.6,248.3 V251.2 Q377.6,252 378.4,252 H397.7 Q398.5,252 398.5,251.2 V248.3" fill="none" stroke="#111" stroke-width="1.1"/>
<text transform="translate(391.2,258.2) rotate(-45) scale(0.8,1)" font-size="7.3" text-anchor="end" fill="#000" stroke="#000" stroke-width="0.2">α-ketoglutarate</text>
<rect x="403.1" y="199.5" width="8.2" height="48.8" fill="#c8001a"/>
<rect x="415.8" y="236.6" width="8.2" height="11.7" fill="#0033aa"/>
<line x1="407.2" y1="196.96" x2="407.2" y2="201.85" stroke="#000" stroke-width="0.9"/>
<line x1="404.6" y1="196.96" x2="409.8" y2="196.96" stroke="#000" stroke-width="0.9"/>
<line x1="404.6" y1="201.85" x2="409.8" y2="201.85" stroke="#000" stroke-width="0.9"/>
<line x1="419.9" y1="238.52" x2="419.9" y2="242.43" stroke="#000" stroke-width="0.9"/>
<line x1="417.3" y1="238.52" x2="422.5" y2="238.52" stroke="#000" stroke-width="0.9"/>
<line x1="417.3" y1="242.43" x2="422.5" y2="242.43" stroke="#000" stroke-width="0.9"/>
<circle cx="406.04" cy="196.47" r="1.65" fill="#e00010" stroke="#000" stroke-width="0.75"/>
<circle cx="405.45" cy="200.38" r="1.65" fill="#e00010" stroke="#000" stroke-width="0.75"/>
<circle cx="406.74" cy="198.42" r="1.65" fill="#e00010" stroke="#000" stroke-width="0.75"/>
<circle cx="405.68" cy="201.85" r="1.65" fill="#e00010" stroke="#000" stroke-width="0.75"/>
<circle cx="405.29" cy="199.4" r="1.65" fill="#e00010" stroke="#000" stroke-width="0.75"/>
<rect x="418.02" y="237.07" width="2.9" height="2.9" fill="#0a3ee0" stroke="#000" stroke-width="0.75"/>
<rect x="420.29" y="239.03" width="2.9" height="2.9" fill="#0a3ee0" stroke="#000" stroke-width="0.75"/>
<rect x="419.77" y="240.98" width="2.9" height="2.9" fill="#0a3ee0" stroke="#000" stroke-width="0.75"/>
<rect x="419.62" y="241.96" width="2.9" height="2.9" fill="#0a3ee0" stroke="#000" stroke-width="0.75"/>
<rect x="417.23" y="236.09" width="2.9" height="2.9" fill="#0a3ee0" stroke="#000" stroke-width="0.75"/>
<rect x="418.61" y="238.05" width="2.9" height="2.9" fill="#0a3ee0" stroke="#000" stroke-width="0.75"/>
<line x1="406.9" y1="189.2" x2="418.9" y2="189.2" stroke="#000" stroke-width="1.2"/>
<polygon points="408.90,183.85 409.46,185.03 410.75,185.20 409.80,186.09 410.05,187.38 408.90,186.75 407.75,187.38 408.00,186.09 407.05,185.20 408.34,185.03" fill="#111"/>
<polygon points="413.05,183.85 413.61,185.03 414.90,185.20 413.95,186.09 414.20,187.38 413.05,186.75 411.90,187.38 412.15,186.09 411.20,185.20 412.49,185.03" fill="#111"/>
<polygon points="417.20,183.85 417.76,185.03 419.05,185.20 418.10,186.09 418.35,187.38 417.20,186.75 416.05,187.38 416.30,186.09 415.35,185.20 416.64,185.03" fill="#111"/>
<path d="M403.1,248.3 V251.2 Q403.1,252 403.9,252 H423.2 Q424,252 424,251.2 V248.3" fill="none" stroke="#111" stroke-width="1.1"/>
<text transform="translate(416.7,258.2) rotate(-45) scale(0.8,1)" font-size="7.3" text-anchor="end" fill="#000" stroke="#000" stroke-width="0.2">Citrate</text>
<rect x="428.6" y="199.5" width="8.2" height="48.8" fill="#c8001a"/>
<rect x="441.3" y="220" width="8.2" height="28.3" fill="#0033aa"/>
<line x1="432.7" y1="197.44" x2="432.7" y2="201.36" stroke="#000" stroke-width="0.9"/>
<line x1="430.1" y1="197.44" x2="435.3" y2="197.44" stroke="#000" stroke-width="0.9"/>
<line x1="430.1" y1="201.36" x2="435.3" y2="201.36" stroke="#000" stroke-width="0.9"/>
<line x1="445.4" y1="220.43" x2="445.4" y2="223.85" stroke="#000" stroke-width="0.9"/>
<line x1="442.8" y1="220.43" x2="448" y2="220.43" stroke="#000" stroke-width="0.9"/>
<line x1="442.8" y1="223.85" x2="448" y2="223.85" stroke="#000" stroke-width="0.9"/>
<circle cx="433.24" cy="197.93" r="1.65" fill="#e00010" stroke="#000" stroke-width="0.75"/>
<circle cx="433.76" cy="200.87" r="1.65" fill="#e00010" stroke="#000" stroke-width="0.75"/>
<circle cx="434" cy="199.4" r="1.65" fill="#e00010" stroke="#000" stroke-width="0.75"/>
<circle cx="434.65" cy="201.85" r="1.65" fill="#e00010" stroke="#000" stroke-width="0.75"/>
<circle cx="433.76" cy="196.96" r="1.65" fill="#e00010" stroke="#000" stroke-width="0.75"/>
<circle cx="434.56" cy="199.89" r="1.65" fill="#e00010" stroke="#000" stroke-width="0.75"/>
<rect x="441.88" y="218.49" width="2.9" height="2.9" fill="#0a3ee0" stroke="#000" stroke-width="0.75"/>
<rect x="443.8" y="219.96" width="2.9" height="2.9" fill="#0a3ee0" stroke="#000" stroke-width="0.75"/>
<rect x="445.9" y="222.4" width="2.9" height="2.9" fill="#0a3ee0" stroke="#000" stroke-width="0.75"/>
<rect x="444.61" y="221.42" width="2.9" height="2.9" fill="#0a3ee0" stroke="#000" stroke-width="0.75"/>
<rect x="445.71" y="223.38" width="2.9" height="2.9" fill="#0a3ee0" stroke="#000" stroke-width="0.75"/>
<rect x="442.25" y="219.47" width="2.9" height="2.9" fill="#0a3ee0" stroke="#000" stroke-width="0.75"/>
<line x1="432.4" y1="191.8" x2="444.4" y2="191.8" stroke="#000" stroke-width="1.2"/>
<polygon points="434.40,186.45 434.96,187.63 436.25,187.80 435.30,188.69 435.55,189.98 434.40,189.35 433.25,189.98 433.50,188.69 432.55,187.80 433.84,187.63" fill="#111"/>
<polygon points="438.55,186.45 439.11,187.63 440.40,187.80 439.45,188.69 439.70,189.98 438.55,189.35 437.40,189.98 437.65,188.69 436.70,187.80 437.99,187.63" fill="#111"/>
<polygon points="442.70,186.45 443.26,187.63 444.55,187.80 443.60,188.69 443.85,189.98 442.70,189.35 441.55,189.98 441.80,188.69 440.85,187.80 442.14,187.63" fill="#111"/>
<path d="M428.6,248.3 V251.2 Q428.6,252 429.4,252 H448.7 Q449.5,252 449.5,251.2 V248.3" fill="none" stroke="#111" stroke-width="1.1"/>
<text transform="translate(442.2,258.2) rotate(-45) scale(0.8,1)" font-size="7.3" text-anchor="end" fill="#000" stroke="#000" stroke-width="0.2">Malate</text>
<rect x="454.1" y="199.5" width="8.2" height="48.8" fill="#c8001a"/>
<rect x="466.8" y="223.8" width="8.2" height="24.5" fill="#0033aa"/>
<line x1="458.2" y1="197.44" x2="458.2" y2="201.36" stroke="#000" stroke-width="0.9"/>
<line x1="455.6" y1="197.44" x2="460.8" y2="197.44" stroke="#000" stroke-width="0.9"/>
<line x1="455.6" y1="201.36" x2="460.8" y2="201.36" stroke="#000" stroke-width="0.9"/>
<line x1="470.9" y1="216.03" x2="470.9" y2="231.67" stroke="#000" stroke-width="0.9"/>
<line x1="468.3" y1="216.03" x2="473.5" y2="216.03" stroke="#000" stroke-width="0.9"/>
<line x1="468.3" y1="231.67" x2="473.5" y2="231.67" stroke="#000" stroke-width="0.9"/>
<circle cx="459.49" cy="198.42" r="1.65" fill="#e00010" stroke="#000" stroke-width="0.75"/>
<circle cx="459.62" cy="200.38" r="1.65" fill="#e00010" stroke="#000" stroke-width="0.75"/>
<circle cx="458.13" cy="199.4" r="1.65" fill="#e00010" stroke="#000" stroke-width="0.75"/>
<circle cx="457.15" cy="201.85" r="1.65" fill="#e00010" stroke="#000" stroke-width="0.75"/>
<circle cx="456" cy="197.44" r="1.65" fill="#e00010" stroke="#000" stroke-width="0.75"/>
<circle cx="458.92" cy="200.87" r="1.65" fill="#e00010" stroke="#000" stroke-width="0.75"/>
<circle cx="458.07" cy="198.91" r="1.65" fill="#e00010" stroke="#000" stroke-width="0.75"/>
<rect x="470.59" y="208.71" width="2.9" height="2.9" fill="#0a3ee0" stroke="#000" stroke-width="0.75"/>
<rect x="468.89" y="213.6" width="2.9" height="2.9" fill="#0a3ee0" stroke="#000" stroke-width="0.75"/>
<rect x="470.64" y="219.96" width="2.9" height="2.9" fill="#0a3ee0" stroke="#000" stroke-width="0.75"/>
<rect x="468.45" y="222.4" width="2.9" height="2.9" fill="#0a3ee0" stroke="#000" stroke-width="0.75"/>
<rect x="470.78" y="227.29" width="2.9" height="2.9" fill="#0a3ee0" stroke="#000" stroke-width="0.75"/>
<rect x="470.46" y="230.22" width="2.9" height="2.9" fill="#0a3ee0" stroke="#000" stroke-width="0.75"/>
<rect x="469.07" y="224.85" width="2.9" height="2.9" fill="#0a3ee0" stroke="#000" stroke-width="0.75"/>
<line x1="457.9" y1="190" x2="469.9" y2="190" stroke="#000" stroke-width="1.2"/>
<polygon points="459.90,184.65 460.46,185.83 461.75,186.00 460.80,186.89 461.05,188.18 459.90,187.55 458.75,188.18 459.00,186.89 458.05,186.00 459.34,185.83" fill="#111"/>
<polygon points="464.05,184.65 464.61,185.83 465.90,186.00 464.95,186.89 465.20,188.18 464.05,187.55 462.90,188.18 463.15,186.89 462.20,186.00 463.49,185.83" fill="#111"/>
<polygon points="468.20,184.65 468.76,185.83 470.05,186.00 469.10,186.89 469.35,188.18 468.20,187.55 467.05,188.18 467.30,186.89 466.35,186.00 467.64,185.83" fill="#111"/>
<path d="M454.1,248.3 V251.2 Q454.1,252 454.9,252 H474.2 Q475,252 475,251.2 V248.3" fill="none" stroke="#111" stroke-width="1.1"/>
<text transform="translate(467.7,258.2) rotate(-45) scale(0.8,1)" font-size="7.3" text-anchor="end" fill="#000" stroke="#000" stroke-width="0.2">Fumarate</text>
<rect x="479.6" y="199.5" width="8.2" height="48.8" fill="#c8001a"/>
<rect x="492.3" y="186.9" width="8.2" height="61.4" fill="#0033aa"/>
<line x1="483.7" y1="195.49" x2="483.7" y2="204.29" stroke="#000" stroke-width="0.9"/>
<line x1="481.1" y1="195.49" x2="486.3" y2="195.49" stroke="#000" stroke-width="0.9"/>
<line x1="481.1" y1="204.29" x2="486.3" y2="204.29" stroke="#000" stroke-width="0.9"/>
<line x1="496.4" y1="172.02" x2="496.4" y2="203.31" stroke="#000" stroke-width="0.9"/>
<line x1="493.8" y1="172.02" x2="499" y2="172.02" stroke="#000" stroke-width="0.9"/>
<line x1="493.8" y1="203.31" x2="499" y2="203.31" stroke="#000" stroke-width="0.9"/>
<circle cx="482.92" cy="195.98" r="1.65" fill="#e00010" stroke="#000" stroke-width="0.75"/>
<circle cx="482.16" cy="203.31" r="1.65" fill="#e00010" stroke="#000" stroke-width="0.75"/>
<circle cx="484.36" cy="201.36" r="1.65" fill="#e00010" stroke="#000" stroke-width="0.75"/>
<circle cx="481.82" cy="198.42" r="1.65" fill="#e00010" stroke="#000" stroke-width="0.75"/>
<circle cx="483.86" cy="205.27" r="1.65" fill="#e00010" stroke="#000" stroke-width="0.75"/>
<circle cx="483.11" cy="200.38" r="1.65" fill="#e00010" stroke="#000" stroke-width="0.75"/>
<circle cx="481.76" cy="194.51" r="1.65" fill="#e00010" stroke="#000" stroke-width="0.75"/>
<circle cx="483.73" cy="202.82" r="1.65" fill="#e00010" stroke="#000" stroke-width="0.75"/>
<rect x="492.91" y="160" width="2.9" height="2.9" fill="#0a3ee0" stroke="#000" stroke-width="0.75"/>
<rect x="494.66" y="170.57" width="2.9" height="2.9" fill="#0a3ee0" stroke="#000" stroke-width="0.75"/>
<rect x="493.06" y="185.73" width="2.9" height="2.9" fill="#0a3ee0" stroke="#000" stroke-width="0.75"/>
<rect x="493.15" y="186.7" width="2.9" height="2.9" fill="#0a3ee0" stroke="#000" stroke-width="0.75"/>
<rect x="494.62" y="199.42" width="2.9" height="2.9" fill="#0a3ee0" stroke="#000" stroke-width="0.75"/>
<rect x="496.39" y="201.37" width="2.9" height="2.9" fill="#0a3ee0" stroke="#000" stroke-width="0.75"/>
<rect x="493.29" y="202.35" width="2.9" height="2.9" fill="#0a3ee0" stroke="#000" stroke-width="0.75"/>
<rect x="493.73" y="197.95" width="2.9" height="2.9" fill="#0a3ee0" stroke="#000" stroke-width="0.75"/>
<line x1="483.4" y1="157.2" x2="495.4" y2="157.2" stroke="#000" stroke-width="1.2"/>
<polygon points="489.55,151.85 490.11,153.03 491.40,153.20 490.45,154.09 490.70,155.38 489.55,154.75 488.40,155.38 488.65,154.09 487.70,153.20 488.99,153.03" fill="#111"/>
<path d="M479.6,248.3 V251.2 Q479.6,252 480.4,252 H499.7 Q500.5,252 500.5,251.2 V248.3" fill="none" stroke="#111" stroke-width="1.1"/>
<text transform="translate(493.2,258.2) rotate(-45) scale(0.8,1)" font-size="7.3" text-anchor="end" fill="#000" stroke="#000" stroke-width="0.2">Succinate</text>
<line x1="296.6" y1="248.3" x2="504.6" y2="248.3" stroke="#000" stroke-width="1.4"/>
<text transform="translate(263.6,198.4) rotate(-90) scale(0.81,1)" font-size="9" text-anchor="middle" fill="#2a2a2a" stroke="#2a2a2a" stroke-width="0.06">Relative metabolite</text>
<text transform="translate(274.2,198.4) rotate(-90) scale(0.81,1)" font-size="9" text-anchor="middle" fill="#2a2a2a" stroke="#2a2a2a" stroke-width="0.06">abundance</text>
<text transform="translate(13.5,292.7)" font-size="10.6" text-anchor="start" fill="#000" font-weight="bold" stroke="#000" stroke-width="0.18">F</text>
<rect x="60.4" y="330.8" width="4.23" height="15.2" fill="#f3f3f3"/>
<rect x="64.58" y="330.8" width="4.23" height="15.2" fill="#d2d7f8"/>
<rect x="68.76" y="330.8" width="4.23" height="15.2" fill="#f6d2e5"/>
<rect x="72.94" y="330.8" width="4.23" height="15.2" fill="#f3f3f3"/>
<rect x="77.12" y="330.8" width="4.23" height="15.2" fill="#d2d7f8"/>
<rect x="81.3" y="330.8" width="4.23" height="15.2" fill="#f3f3f3"/>
<rect x="85.48" y="330.8" width="4.23" height="15.2" fill="#f3f3f3"/>
<rect x="89.66" y="330.8" width="4.23" height="15.2" fill="#d2d7f8"/>
<rect x="93.84" y="330.8" width="4.23" height="15.2" fill="#f6d2e5"/>
<rect x="98.02" y="330.8" width="4.23" height="15.2" fill="#f3f3f3"/>
<rect x="102.2" y="330.8" width="4.23" height="15.2" fill="#d2d7f8"/>
<rect x="106.38" y="330.8" width="4.23" height="15.2" fill="#f5e3ec"/>
<rect x="110.56" y="330.8" width="4.23" height="15.2" fill="#f3f3f3"/>
<rect x="114.74" y="330.8" width="4.23" height="15.2" fill="#d2d7f8"/>
<rect x="118.92" y="330.8" width="4.23" height="15.2" fill="#f6d2e5"/>
<rect x="123.1" y="330.8" width="4.23" height="15.2" fill="#f3f3f3"/>
<rect x="127.28" y="330.8" width="4.23" height="15.2" fill="#d2d7f8"/>
<rect x="131.46" y="330.8" width="4.23" height="15.2" fill="#f6d2e5"/>
<rect x="135.64" y="330.8" width="4.23" height="15.2" fill="#f3f3f3"/>
<rect x="139.82" y="330.8" width="4.23" height="15.2" fill="#d2d7f8"/>
<rect x="144" y="330.8" width="4.23" height="15.2" fill="#f6d2e5"/>
<rect x="148.18" y="330.8" width="4.23" height="15.2" fill="#f5e3ec"/>
<rect x="152.36" y="330.8" width="4.23" height="15.2" fill="#d2d7f8"/>
<rect x="156.54" y="330.8" width="4.23" height="15.2" fill="#f3f3f3"/>
<rect x="160.72" y="330.8" width="4.23" height="15.2" fill="#f3f3f3"/>
<rect x="164.9" y="330.8" width="4.23" height="15.2" fill="#d2d7f8"/>
<rect x="169.08" y="330.8" width="4.23" height="15.2" fill="#f5e3ec"/>
<rect x="173.26" y="330.8" width="4.23" height="15.2" fill="#b2baf8"/>
<rect x="177.44" y="330.8" width="4.23" height="15.2" fill="#f3f3f3"/>
<rect x="181.62" y="330.8" width="4.23" height="15.2" fill="#f7b7d6"/>
<rect x="185.8" y="330.8" width="4.23" height="15.2" fill="#f3f3f3"/>
<rect x="189.98" y="330.8" width="4.23" height="15.2" fill="#d2d7f8"/>
<rect x="194.16" y="330.8" width="4.23" height="15.2" fill="#f6d2e5"/>
<rect x="198.34" y="330.8" width="4.23" height="15.2" fill="#f3f3f3"/>
<rect x="202.52" y="330.8" width="4.23" height="15.2" fill="#d2d7f8"/>
<rect x="206.7" y="330.8" width="4.23" height="15.2" fill="#f6d2e5"/>
<rect x="210.88" y="330.8" width="4.23" height="15.2" fill="#f3f3f3"/>
<rect x="215.06" y="330.8" width="4.23" height="15.2" fill="#d2d7f8"/>
<rect x="219.24" y="330.8" width="4.23" height="15.2" fill="#f6d2e5"/>
<rect x="223.42" y="330.8" width="4.23" height="15.2" fill="#f3f3f3"/>
<rect x="227.6" y="330.8" width="4.23" height="15.2" fill="#f3f3f3"/>
<rect x="231.78" y="330.8" width="4.23" height="15.2" fill="#f3f3f3"/>
<rect x="235.96" y="330.8" width="4.23" height="15.2" fill="#f3f3f3"/>
<rect x="240.14" y="330.8" width="4.23" height="15.2" fill="#f3f3f3"/>
<rect x="244.32" y="330.8" width="4.23" height="15.2" fill="#f5e3ec"/>
<rect x="248.5" y="330.8" width="4.23" height="15.2" fill="#f3f3f3"/>
<rect x="252.68" y="330.8" width="4.23" height="15.2" fill="#f3f3f3"/>
<rect x="256.86" y="330.8" width="4.23" height="15.2" fill="#f3f3f3"/>
<rect x="261.04" y="330.8" width="4.23" height="15.2" fill="#f5e3ec"/>
<rect x="265.22" y="330.8" width="4.23" height="15.2" fill="#f3f3f3"/>
<rect x="269.4" y="330.8" width="4.23" height="15.2" fill="#e3e5f5"/>
<rect x="273.58" y="330.8" width="4.23" height="15.2" fill="#2429f6"/>
<rect x="277.76" y="330.8" width="4.23" height="15.2" fill="#f7b7d6"/>
<rect x="281.94" y="330.8" width="4.23" height="15.2" fill="#f7b7d6"/>
<rect x="286.12" y="330.8" width="4.23" height="15.2" fill="#f3f3f3"/>
<rect x="290.3" y="330.8" width="4.23" height="15.2" fill="#d2d7f8"/>
<rect x="294.48" y="330.8" width="4.23" height="15.2" fill="#f6d2e5"/>
<rect x="298.66" y="330.8" width="4.23" height="15.2" fill="#f3f3f3"/>
<rect x="302.84" y="330.8" width="4.23" height="15.2" fill="#d2d7f8"/>
<rect x="307.02" y="330.8" width="4.23" height="15.2" fill="#f5e3ec"/>
<rect x="311.2" y="330.8" width="4.23" height="15.2" fill="#f3f3f3"/>
<rect x="315.38" y="330.8" width="4.23" height="15.2" fill="#d2d7f8"/>
<rect x="319.56" y="330.8" width="4.23" height="15.2" fill="#f6d2e5"/>
<rect x="323.74" y="330.8" width="4.23" height="15.2" fill="#f3f3f3"/>
<rect x="327.92" y="330.8" width="4.23" height="15.2" fill="#e3e5f5"/>
<rect x="332.1" y="330.8" width="4.23" height="15.2" fill="#f3f3f3"/>
<rect x="60.4" y="345.95" width="4.23" height="15.2" fill="#b2baf8"/>
<rect x="64.58" y="345.95" width="4.23" height="15.2" fill="#f3f3f3"/>
<rect x="68.76" y="345.95" width="4.23" height="15.2" fill="#f7b7d6"/>
<rect x="72.94" y="345.95" width="4.23" height="15.2" fill="#d2d7f8"/>
<rect x="77.12" y="345.95" width="4.23" height="15.2" fill="#f3f3f3"/>
<rect x="81.3" y="345.95" width="4.23" height="15.2" fill="#f6d2e5"/>
<rect x="85.48" y="345.95" width="4.23" height="15.2" fill="#d2d7f8"/>
<rect x="89.66" y="345.95" width="4.23" height="15.2" fill="#e3e5f5"/>
<rect x="93.84" y="345.95" width="4.23" height="15.2" fill="#f7b7d6"/>
<rect x="98.02" y="345.95" width="4.23" height="15.2" fill="#d2d7f8"/>
<rect x="102.2" y="345.95" width="4.23" height="15.2" fill="#f3f3f3"/>
<rect x="106.38" y="345.95" width="4.23" height="15.2" fill="#f7b7d6"/>
<rect x="110.56" y="345.95" width="4.23" height="15.2" fill="#d2d7f8"/>
<rect x="114.74" y="345.95" width="4.23" height="15.2" fill="#f3f3f3"/>
<rect x="118.92" y="345.95" width="4.23" height="15.2" fill="#f7b7d6"/>
<rect x="123.1" y="345.95" width="4.23" height="15.2" fill="#d2d7f8"/>
<rect x="127.28" y="345.95" width="4.23" height="15.2" fill="#f3f3f3"/>
<rect x="131.46" y="345.95" width="4.23" height="15.2" fill="#f7b7d6"/>
<rect x="135.64" y="345.95" width="4.23" height="15.2" fill="#b2baf8"/>
<rect x="139.82" y="345.95" width="4.23" height="15.2" fill="#f3f3f3"/>
<rect x="144" y="345.95" width="4.23" height="15.2" fill="#f7b7d6"/>
<rect x="148.18" y="345.95" width="4.23" height="15.2" fill="#d2d7f8"/>
<rect x="152.36" y="345.95" width="4.23" height="15.2" fill="#f3f3f3"/>
<rect x="156.54" y="345.95" width="4.23" height="15.2" fill="#f7b7d6"/>
<rect x="160.72" y="345.95" width="4.23" height="15.2" fill="#b2baf8"/>
<rect x="164.9" y="345.95" width="4.23" height="15.2" fill="#f3f3f3"/>
<rect x="169.08" y="345.95" width="4.23" height="15.2" fill="#f7b7d6"/>
<rect x="173.26" y="345.95" width="4.23" height="15.2" fill="#f3f3f3"/>
<rect x="177.44" y="345.95" width="4.23" height="15.2" fill="#f88ab7"/>
<rect x="181.62" y="345.95" width="4.23" height="15.2" fill="#555ef6"/>
<rect x="185.8" y="345.95" width="4.23" height="15.2" fill="#d2d7f8"/>
<rect x="189.98" y="345.95" width="4.23" height="15.2" fill="#e3e5f5"/>
<rect x="194.16" y="345.95" width="4.23" height="15.2" fill="#f7b7d6"/>
<rect x="198.34" y="345.95" width="4.23" height="15.2" fill="#b2baf8"/>
<rect x="202.52" y="345.95" width="4.23" height="15.2" fill="#f3f3f3"/>
<rect x="206.7" y="345.95" width="4.23" height="15.2" fill="#f7b7d6"/>
<rect x="210.88" y="345.95" width="4.23" height="15.2" fill="#b2baf8"/>
<rect x="215.06" y="345.95" width="4.23" height="15.2" fill="#f3f3f3"/>
<rect x="219.24" y="345.95" width="4.23" height="15.2" fill="#f88ab7"/>
<rect x="223.42" y="345.95" width="4.23" height="15.2" fill="#d2d7f8"/>
<rect x="227.6" y="345.95" width="4.23" height="15.2" fill="#f3f3f3"/>
<rect x="231.78" y="345.95" width="4.23" height="15.2" fill="#f6d2e5"/>
<rect x="235.96" y="345.95" width="4.23" height="15.2" fill="#f3f3f3"/>
<rect x="240.14" y="345.95" width="4.23" height="15.2" fill="#f3f3f3"/>
<rect x="244.32" y="345.95" width="4.23" height="15.2" fill="#f3f3f3"/>
<rect x="248.5" y="345.95" width="4.23" height="15.2" fill="#f3f3f3"/>
<rect x="252.68" y="345.95" width="4.23" height="15.2" fill="#f3f3f3"/>
<rect x="256.86" y="345.95" width="4.23" height="15.2" fill="#f3f3f3"/>
<rect x="261.04" y="345.95" width="4.23" height="15.2" fill="#f3f3f3"/>
<rect x="265.22" y="345.95" width="4.23" height="15.2" fill="#f3f3f3"/>
<rect x="269.4" y="345.95" width="4.23" height="15.2" fill="#f3f3f3"/>
<rect x="273.58" y="345.95" width="4.23" height="15.2" fill="#f3f3f3"/>
<rect x="277.76" y="345.95" width="4.23" height="15.2" fill="#f6d2e5"/>
<rect x="281.94" y="345.95" width="4.23" height="15.2" fill="#d2d7f8"/>
<rect x="286.12" y="345.95" width="4.23" height="15.2" fill="#b2baf8"/>
<rect x="290.3" y="345.95" width="4.23" height="15.2" fill="#f3f3f3"/>
<rect x="294.48" y="345.95" width="4.23" height="15.2" fill="#f7b7d6"/>
<rect x="298.66" y="345.95" width="4.23" height="15.2" fill="#d2d7f8"/>
<rect x="302.84" y="345.95" width="4.23" height="15.2" fill="#f3f3f3"/>
<rect x="307.02" y="345.95" width="4.23" height="15.2" fill="#f7b7d6"/>
<rect x="311.2" y="345.95" width="4.23" height="15.2" fill="#d2d7f8"/>
<rect x="315.38" y="345.95" width="4.23" height="15.2" fill="#f3f3f3"/>
<rect x="319.56" y="345.95" width="4.23" height="15.2" fill="#f7b7d6"/>
<rect x="323.74" y="345.95" width="4.23" height="15.2" fill="#d2d7f8"/>
<rect x="327.92" y="345.95" width="4.23" height="15.2" fill="#f5e3ec"/>
<rect x="332.1" y="345.95" width="4.23" height="15.2" fill="#f5e3ec"/>
<rect x="60.4" y="361.1" width="4.23" height="15.2" fill="#d2d7f8"/>
<rect x="64.58" y="361.1" width="4.23" height="15.2" fill="#f3f3f3"/>
<rect x="68.76" y="361.1" width="4.23" height="15.2" fill="#f3f3f3"/>
<rect x="72.94" y="361.1" width="4.23" height="15.2" fill="#b2baf8"/>
<rect x="77.12" y="361.1" width="4.23" height="15.2" fill="#d2d7f8"/>
<rect x="81.3" y="361.1" width="4.23" height="15.2" fill="#f3f3f3"/>
<rect x="85.48" y="361.1" width="4.23" height="15.2" fill="#d2d7f8"/>
<rect x="89.66" y="361.1" width="4.23" height="15.2" fill="#f3f3f3"/>
<rect x="93.84" y="361.1" width="4.23" height="15.2" fill="#f6d2e5"/>
<rect x="98.02" y="361.1" width="4.23" height="15.2" fill="#f6d2e5"/>
<rect x="102.2" y="361.1" width="4.23" height="15.2" fill="#f7b7d6"/>
<rect x="106.38" y="361.1" width="4.23" height="15.2" fill="#f7b7d6"/>
<rect x="110.56" y="361.1" width="4.23" height="15.2" fill="#f6d2e5"/>
<rect x="114.74" y="361.1" width="4.23" height="15.2" fill="#f7b7d6"/>
<rect x="118.92" y="361.1" width="4.23" height="15.2" fill="#f7b7d6"/>
<rect x="123.1" y="361.1" width="4.23" height="15.2" fill="#f3f3f3"/>
<rect x="127.28" y="361.1" width="4.23" height="15.2" fill="#f7b7d6"/>
<rect x="131.46" y="361.1" width="4.23" height="15.2" fill="#f3f3f3"/>
<rect x="135.64" y="361.1" width="4.23" height="15.2" fill="#7780f7"/>
<rect x="139.82" y="361.1" width="4.23" height="15.2" fill="#d2d7f8"/>
<rect x="144" y="361.1" width="4.23" height="15.2" fill="#f3f3f3"/>
<rect x="148.18" y="361.1" width="4.23" height="15.2" fill="#fa578d"/>
<rect x="152.36" y="361.1" width="4.23" height="15.2" fill="#fa578d"/>
<rect x="156.54" y="361.1" width="4.23" height="15.2" fill="#fa578d"/>
<rect x="160.72" y="361.1" width="4.23" height="15.2" fill="#f3f3f3"/>
<rect x="164.9" y="361.1" width="4.23" height="15.2" fill="#f6d2e5"/>
<rect x="169.08" y="361.1" width="4.23" height="15.2" fill="#f7b7d6"/>
<rect x="173.26" y="361.1" width="4.23" height="15.2" fill="#f7b7d6"/>
<rect x="177.44" y="361.1" width="4.23" height="15.2" fill="#f6d2e5"/>
<rect x="181.62" y="361.1" width="4.23" height="15.2" fill="#f7b7d6"/>
<rect x="185.8" y="361.1" width="4.23" height="15.2" fill="#f3f3f3"/>
<rect x="189.98" y="361.1" width="4.23" height="15.2" fill="#f6d2e5"/>
<rect x="194.16" y="361.1" width="4.23" height="15.2" fill="#f6d2e5"/>
<rect x="198.34" y="361.1" width="4.23" height="15.2" fill="#f6d2e5"/>
<rect x="202.52" y="361.1" width="4.23" height="15.2" fill="#f7b7d6"/>
<rect x="206.7" y="361.1" width="4.23" height="15.2" fill="#f7b7d6"/>
<rect x="210.88" y="361.1" width="4.23" height="15.2" fill="#f6d2e5"/>
<rect x="215.06" y="361.1" width="4.23" height="15.2" fill="#f7b7d6"/>
<rect x="219.24" y="361.1" width="4.23" height="15.2" fill="#f7b7d6"/>
<rect x="223.42" y="361.1" width="4.23" height="15.2" fill="#d2d7f8"/>
<rect x="227.6" y="361.1" width="4.23" height="15.2" fill="#d2d7f8"/>
<rect x="231.78" y="361.1" width="4.23" height="15.2" fill="#d2d7f8"/>
<rect x="235.96" y="361.1" width="4.23" height="15.2" fill="#2429f6"/>
<rect x="240.14" y="361.1" width="4.23" height="15.2" fill="#2429f6"/>
<rect x="244.32" y="361.1" width="4.23" height="15.2" fill="#2429f6"/>
<rect x="248.5" y="361.1" width="4.23" height="15.2" fill="#b2baf8"/>
<rect x="252.68" y="361.1" width="4.23" height="15.2" fill="#b2baf8"/>
<rect x="256.86" y="361.1" width="4.23" height="15.2" fill="#b2baf8"/>
<rect x="261.04" y="361.1" width="4.23" height="15.2" fill="#e3e5f5"/>
<rect x="265.22" y="361.1" width="4.23" height="15.2" fill="#e3e5f5"/>
<rect x="269.4" y="361.1" width="4.23" height="15.2" fill="#d2d7f8"/>
<rect x="273.58" y="361.1" width="4.23" height="15.2" fill="#fa1930"/>
<rect x="277.76" y="361.1" width="4.23" height="15.2" fill="#fa1930"/>
<rect x="281.94" y="361.1" width="4.23" height="15.2" fill="#fa1930"/>
<rect x="286.12" y="361.1" width="4.23" height="15.2" fill="#f3f3f3"/>
<rect x="290.3" y="361.1" width="4.23" height="15.2" fill="#f5e3ec"/>
<rect x="294.48" y="361.1" width="4.23" height="15.2" fill="#f6d2e5"/>
<rect x="298.66" y="361.1" width="4.23" height="15.2" fill="#b2baf8"/>
<rect x="302.84" y="361.1" width="4.23" height="15.2" fill="#b2baf8"/>
<rect x="307.02" y="361.1" width="4.23" height="15.2" fill="#d2d7f8"/>
<rect x="311.2" y="361.1" width="4.23" height="15.2" fill="#b2baf8"/>
<rect x="315.38" y="361.1" width="4.23" height="15.2" fill="#e3e5f5"/>
<rect x="319.56" y="361.1" width="4.23" height="15.2" fill="#f3f3f3"/>
<rect x="323.74" y="361.1" width="4.23" height="15.2" fill="#2429f6"/>
<rect x="327.92" y="361.1" width="4.23" height="15.2" fill="#2429f6"/>
<rect x="332.1" y="361.1" width="4.23" height="15.2" fill="#2429f6"/>
<rect x="60.4" y="376.25" width="4.23" height="15.2" fill="#f7b7d6"/>
<rect x="64.58" y="376.25" width="4.23" height="15.2" fill="#f7b7d6"/>
<rect x="68.76" y="376.25" width="4.23" height="15.2" fill="#f7b7d6"/>
<rect x="72.94" y="376.25" width="4.23" height="15.2" fill="#f3f3f3"/>
<rect x="77.12" y="376.25" width="4.23" height="15.2" fill="#f3f3f3"/>
<rect x="81.3" y="376.25" width="4.23" height="15.2" fill="#f3f3f3"/>
<rect x="85.48" y="376.25" width="4.23" height="15.2" fill="#f6d2e5"/>
<rect x="89.66" y="376.25" width="4.23" height="15.2" fill="#f6d2e5"/>
<rect x="93.84" y="376.25" width="4.23" height="15.2" fill="#f7b7d6"/>
<rect x="98.02" y="376.25" width="4.23" height="15.2" fill="#f7b7d6"/>
<rect x="102.2" y="376.25" width="4.23" height="15.2" fill="#f7b7d6"/>
<rect x="106.38" y="376.25" width="4.23" height="15.2" fill="#f7b7d6"/>
<rect x="110.56" y="376.25" width="4.23" height="15.2" fill="#f7b7d6"/>
<rect x="114.74" y="376.25" width="4.23" height="15.2" fill="#f6d2e5"/>
<rect x="118.92" y="376.25" width="4.23" height="15.2" fill="#f7b7d6"/>
<rect x="123.1" y="376.25" width="4.23" height="15.2" fill="#f6d2e5"/>
<rect x="127.28" y="376.25" width="4.23" height="15.2" fill="#f3f3f3"/>
<rect x="131.46" y="376.25" width="4.23" height="15.2" fill="#f7b7d6"/>
<rect x="135.64" y="376.25" width="4.23" height="15.2" fill="#f7b7d6"/>
<rect x="139.82" y="376.25" width="4.23" height="15.2" fill="#f6d2e5"/>
<rect x="144" y="376.25" width="4.23" height="15.2" fill="#f6d2e5"/>
<rect x="148.18" y="376.25" width="4.23" height="15.2" fill="#f7b7d6"/>
<rect x="152.36" y="376.25" width="4.23" height="15.2" fill="#f7b7d6"/>
<rect x="156.54" y="376.25" width="4.23" height="15.2" fill="#f7b7d6"/>
<rect x="160.72" y="376.25" width="4.23" height="15.2" fill="#f7b7d6"/>
<rect x="164.9" y="376.25" width="4.23" height="15.2" fill="#f6d2e5"/>
<rect x="169.08" y="376.25" width="4.23" height="15.2" fill="#f7b7d6"/>
<rect x="173.26" y="376.25" width="4.23" height="15.2" fill="#555ef6"/>
<rect x="177.44" y="376.25" width="4.23" height="15.2" fill="#555ef6"/>
<rect x="181.62" y="376.25" width="4.23" height="15.2" fill="#555ef6"/>
<rect x="185.8" y="376.25" width="4.23" height="15.2" fill="#f7b7d6"/>
<rect x="189.98" y="376.25" width="4.23" height="15.2" fill="#f6d2e5"/>
<rect x="194.16" y="376.25" width="4.23" height="15.2" fill="#f7b7d6"/>
<rect x="198.34" y="376.25" width="4.23" height="15.2" fill="#f7b7d6"/>
<rect x="202.52" y="376.25" width="4.23" height="15.2" fill="#f7b7d6"/>
<rect x="206.7" y="376.25" width="4.23" height="15.2" fill="#f7b7d6"/>
<rect x="210.88" y="376.25" width="4.23" height="15.2" fill="#f88ab7"/>
<rect x="215.06" y="376.25" width="4.23" height="15.2" fill="#f88ab7"/>
<rect x="219.24" y="376.25" width="4.23" height="15.2" fill="#f88ab7"/>
<rect x="223.42" y="376.25" width="4.23" height="15.2" fill="#f3f3f3"/>
<rect x="227.6" y="376.25" width="4.23" height="15.2" fill="#f3f3f3"/>
<rect x="231.78" y="376.25" width="4.23" height="15.2" fill="#f6d2e5"/>
<rect x="235.96" y="376.25" width="4.23" height="15.2" fill="#7780f7"/>
<rect x="240.14" y="376.25" width="4.23" height="15.2" fill="#7780f7"/>
<rect x="244.32" y="376.25" width="4.23" height="15.2" fill="#7780f7"/>
<rect x="248.5" y="376.25" width="4.23" height="15.2" fill="#d2d7f8"/>
<rect x="252.68" y="376.25" width="4.23" height="15.2" fill="#d2d7f8"/>
<rect x="256.86" y="376.25" width="4.23" height="15.2" fill="#d2d7f8"/>
<rect x="261.04" y="376.25" width="4.23" height="15.2" fill="#e3e5f5"/>
<rect x="265.22" y="376.25" width="4.23" height="15.2" fill="#e3e5f5"/>
<rect x="269.4" y="376.25" width="4.23" height="15.2" fill="#e3e5f5"/>
<rect x="273.58" y="376.25" width="4.23" height="15.2" fill="#f7b7d6"/>
<rect x="277.76" y="376.25" width="4.23" height="15.2" fill="#f7b7d6"/>
<rect x="281.94" y="376.25" width="4.23" height="15.2" fill="#f7b7d6"/>
<rect x="286.12" y="376.25" width="4.23" height="15.2" fill="#f6d2e5"/>
<rect x="290.3" y="376.25" width="4.23" height="15.2" fill="#f7b7d6"/>
<rect x="294.48" y="376.25" width="4.23" height="15.2" fill="#f7b7d6"/>
<rect x="298.66" y="376.25" width="4.23" height="15.2" fill="#d2d7f8"/>
<rect x="302.84" y="376.25" width="4.23" height="15.2" fill="#d2d7f8"/>
<rect x="307.02" y="376.25" width="4.23" height="15.2" fill="#d2d7f8"/>
<rect x="311.2" y="376.25" width="4.23" height="15.2" fill="#e3e5f5"/>
<rect x="315.38" y="376.25" width="4.23" height="15.2" fill="#e3e5f5"/>
<rect x="319.56" y="376.25" width="4.23" height="15.2" fill="#f3f3f3"/>
<rect x="323.74" y="376.25" width="4.23" height="15.2" fill="#7780f7"/>
<rect x="327.92" y="376.25" width="4.23" height="15.2" fill="#7780f7"/>
<rect x="332.1" y="376.25" width="4.23" height="15.2" fill="#7780f7"/>
<path d="M64.58,330.8V391.4M68.76,330.8V391.4M72.94,330.8V391.4M77.12,330.8V391.4M81.3,330.8V391.4M85.48,330.8V391.4M89.66,330.8V391.4M93.84,330.8V391.4M98.02,330.8V391.4M102.2,330.8V391.4M106.38,330.8V391.4M110.56,330.8V391.4M114.74,330.8V391.4M118.92,330.8V391.4M123.1,330.8V391.4M127.28,330.8V391.4M131.46,330.8V391.4M135.64,330.8V391.4M139.82,330.8V391.4M144,330.8V391.4M148.18,330.8V391.4M152.36,330.8V391.4M156.54,330.8V391.4M160.72,330.8V391.4M164.9,330.8V391.4M169.08,330.8V391.4M173.26,330.8V391.4M177.44,330.8V391.4M181.62,330.8V391.4M185.8,330.8V391.4M189.98,330.8V391.4M194.16,330.8V391.4M198.34,330.8V391.4M202.52,330.8V391.4M206.7,330.8V391.4M210.88,330.8V391.4M215.06,330.8V391.4M219.24,330.8V391.4M223.42,330.8V391.4M227.6,330.8V391.4M231.78,330.8V391.4M235.96,330.8V391.4M240.14,330.8V391.4M244.32,330.8V391.4M248.5,330.8V391.4M252.68,330.8V391.4M256.86,330.8V391.4M261.04,330.8V391.4M265.22,330.8V391.4M269.4,330.8V391.4M273.58,330.8V391.4M277.76,330.8V391.4M281.94,330.8V391.4M286.12,330.8V391.4M290.3,330.8V391.4M294.48,330.8V391.4M298.66,330.8V391.4M302.84,330.8V391.4M307.02,330.8V391.4M311.2,330.8V391.4M315.38,330.8V391.4M319.56,330.8V391.4M323.74,330.8V391.4M327.92,330.8V391.4M332.1,330.8V391.4M60.4,345.95H336.28M60.4,361.1H336.28M60.4,376.25H336.28" stroke="#4a4a4a" stroke-width="0.6" fill="none"/>
<rect x="60.4" y="330.8" width="275.88" height="60.6" fill="none" stroke="#4a4a4a" stroke-width="0.8"/>
<text transform="translate(51.4,349)" font-size="8.6" text-anchor="end" fill="#222" stroke="#222" stroke-width="0.18">DMSO</text>
<text transform="translate(50.6,377.4)" font-size="8.6" text-anchor="end" fill="#222" stroke="#222" stroke-width="0.18">MB1-47</text>
<line x1="53.8" y1="330.8" x2="53.8" y2="359.2" stroke="#111" stroke-width="1.3"/>
<line x1="53.8" y1="362.1" x2="53.8" y2="390.6" stroke="#111" stroke-width="1.3"/>
<text transform="translate(65,327.3) rotate(-45)" font-size="8" text-anchor="start" fill="#222" stroke="#222" stroke-width="0.18">Ornithine</text>
<text transform="translate(77.54,327.3) rotate(-45)" font-size="8" text-anchor="start" fill="#222" stroke="#222" stroke-width="0.18">Glutamine</text>
<text transform="translate(90.08,327.3) rotate(-45)" font-size="8" text-anchor="start" fill="#222" stroke="#222" stroke-width="0.18">Arginine</text>
<text transform="translate(102.62,327.3) rotate(-45)" font-size="8" text-anchor="start" fill="#222" stroke="#222" stroke-width="0.18">Tryptophan</text>
<text transform="translate(115.16,327.3) rotate(-45)" font-size="8" text-anchor="start" fill="#222" stroke="#222" stroke-width="0.18">Valine</text>
<text transform="translate(127.7,327.3) rotate(-45)" font-size="8" text-anchor="start" fill="#222" stroke="#222" stroke-width="0.18">Threonine</text>
<text transform="translate(140.24,327.3) rotate(-45)" font-size="8" text-anchor="start" fill="#222" stroke="#222" stroke-width="0.18">Citrulline</text>
<text transform="translate(152.78,327.3) rotate(-45)" font-size="8" text-anchor="start" fill="#222" stroke="#222" stroke-width="0.18">Serine</text>
<text transform="translate(165.32,327.3) rotate(-45)" font-size="8" text-anchor="start" fill="#222" stroke="#222" stroke-width="0.18">Leucine</text>
<text transform="translate(177.86,327.3) rotate(-45)" font-size="8" text-anchor="start" fill="#222" stroke="#222" stroke-width="0.18">Phenylalanine</text>
<text transform="translate(190.4,327.3) rotate(-45)" font-size="8" text-anchor="start" fill="#222" stroke="#222" stroke-width="0.18">Tyrosine</text>
<text transform="translate(202.94,327.3) rotate(-45)" font-size="8" text-anchor="start" fill="#222" stroke="#222" stroke-width="0.18">Methionine</text>
<text transform="translate(215.48,327.3) rotate(-45)" font-size="8" text-anchor="start" fill="#222" stroke="#222" stroke-width="0.18">Lysine</text>
<text transform="translate(228.02,327.3) rotate(-45)" font-size="8" text-anchor="start" fill="#222" stroke="#222" stroke-width="0.18">Glycine</text>
<text transform="translate(240.56,327.3) rotate(-45)" font-size="8" text-anchor="start" fill="#222" stroke="#222" stroke-width="0.18">Glutamate</text>
<text transform="translate(253.1,327.3) rotate(-45)" font-size="8" text-anchor="start" fill="#222" stroke="#222" stroke-width="0.18">Taurine</text>
<text transform="translate(265.64,327.3) rotate(-45)" font-size="8" text-anchor="start" fill="#222" stroke="#222" stroke-width="0.18">Hydroxyproline</text>
<text transform="translate(278.18,327.3) rotate(-45)" font-size="8" text-anchor="start" fill="#222" stroke="#222" stroke-width="0.18">Alanine</text>
<text transform="translate(290.72,327.3) rotate(-45)" font-size="8" text-anchor="start" fill="#222" stroke="#222" stroke-width="0.18">Isoleucine</text>
<text transform="translate(303.26,327.3) rotate(-45)" font-size="8" text-anchor="start" fill="#222" stroke="#222" stroke-width="0.18">Proline</text>
<text transform="translate(315.8,327.3) rotate(-45)" font-size="8" text-anchor="start" fill="#222" stroke="#222" stroke-width="0.18">Asparagine</text>
<text transform="translate(328.34,327.3) rotate(-45)" font-size="8" text-anchor="start" fill="#222" stroke="#222" stroke-width="0.18">Aspartate</text>
<text transform="translate(267.3,401.6)" font-size="8.5" text-anchor="start" fill="#222" stroke="#222" stroke-width="0.18">Fold change (log<tspan font-size="5.5" dy="1.8">2</tspan><tspan dy="-1.8">)</tspan></text>
<defs><linearGradient id="cb267" x1="0" x2="1" y1="0" y2="0"><stop offset="0" stop-color="#161af6"/><stop offset="0.12" stop-color="#5c66f6"/><stop offset="0.25" stop-color="#a0a8f8"/><stop offset="0.38" stop-color="#ced4f8"/><stop offset="0.5" stop-color="#f3f3f3"/><stop offset="0.62" stop-color="#f7cce2"/><stop offset="0.75" stop-color="#f898c3"/><stop offset="0.88" stop-color="#fa5087"/><stop offset="1" stop-color="#fa0e20"/></linearGradient></defs>
<rect x="267.8" y="406.2" width="67.4" height="10.1" fill="url(#cb267)" stroke="#222" stroke-width="0.9"/>
<line x1="267.8" y1="416.3" x2="267.8" y2="418.7" stroke="#222" stroke-width="0.9"/>
<line x1="301.5" y1="416.3" x2="301.5" y2="418.7" stroke="#222" stroke-width="0.9"/>
<line x1="335.2" y1="416.3" x2="335.2" y2="418.7" stroke="#222" stroke-width="0.9"/>
<text transform="translate(267.8,425.9)" font-size="7.5" text-anchor="middle" fill="#222" stroke="#222" stroke-width="0.18">–2</text>
<text transform="translate(301.5,425.9)" font-size="7.5" text-anchor="middle" fill="#222" stroke="#222" stroke-width="0.18">0</text>
<text transform="translate(334.7,425.9)" font-size="7.5" text-anchor="middle" fill="#222" stroke="#222" stroke-width="0.18">+2</text>
<text transform="translate(396.2,293.1) scale(1.06,1)" font-size="10.6" text-anchor="start" fill="#000" font-weight="bold" stroke="#000" stroke-width="0.18">G</text>
<text transform="translate(455.4,295.7)" font-size="9.3" text-anchor="start" fill="#1a1a1a" stroke="#1a1a1a" stroke-width="0.18">Aspartate</text>
<rect x="457" y="332.6" width="13.6" height="60.5" fill="#c8001a"/>
<rect x="476.9" y="368.2" width="13.4" height="24.9" fill="#0033aa"/>
<line x1="450.8" y1="302" x2="450.8" y2="393.6" stroke="#000" stroke-width="1.4"/>
<line x1="448.2" y1="302.5" x2="450.8" y2="302.5" stroke="#000" stroke-width="1.4"/>
<text transform="translate(446.4,305.4)" font-size="8" text-anchor="end" fill="#1a1a1a" stroke="#1a1a1a" stroke-width="0.18">1.5</text>
<line x1="448.2" y1="332.7" x2="450.8" y2="332.7" stroke="#000" stroke-width="1.4"/>
<text transform="translate(446.4,335.6)" font-size="8" text-anchor="end" fill="#1a1a1a" stroke="#1a1a1a" stroke-width="0.18">1.0</text>
<line x1="448.2" y1="362.9" x2="450.8" y2="362.9" stroke="#000" stroke-width="1.4"/>
<text transform="translate(446.4,365.8)" font-size="8" text-anchor="end" fill="#1a1a1a" stroke="#1a1a1a" stroke-width="0.18">0.5</text>
<line x1="448.2" y1="393.1" x2="450.8" y2="393.1" stroke="#000" stroke-width="1.4"/>
<text transform="translate(446.4,396)" font-size="8" text-anchor="end" fill="#1a1a1a" stroke="#1a1a1a" stroke-width="0.18">0.0</text>
<line x1="450.8" y1="393.1" x2="496.9" y2="393.1" stroke="#000" stroke-width="1.4"/>
<line x1="463.8" y1="393.1" x2="463.8" y2="396" stroke="#000" stroke-width="1.3"/>
<line x1="483.6" y1="393.1" x2="483.6" y2="396" stroke="#000" stroke-width="1.3"/>
<line x1="464.9" y1="320" x2="485.4" y2="320" stroke="#000" stroke-width="1.2"/>
<polygon points="471.05,314.85 471.61,316.03 472.90,316.20 471.95,317.09 472.20,318.38 471.05,317.75 469.90,318.38 470.15,317.09 469.20,316.20 470.49,316.03" fill="#111"/>
<polygon points="475.20,314.85 475.76,316.03 477.05,316.20 476.10,317.09 476.35,318.38 475.20,317.75 474.05,318.38 474.30,317.09 473.35,316.20 474.64,316.03" fill="#111"/>
<polygon points="479.35,314.85 479.91,316.03 481.20,316.20 480.25,317.09 480.50,318.38 479.35,317.75 478.20,318.38 478.45,317.09 477.50,316.20 478.79,316.03" fill="#111"/>
<line x1="463.8" y1="326.9" x2="463.8" y2="338.5" stroke="#000" stroke-width="0.9"/>
<line x1="460.6" y1="326.9" x2="467" y2="326.9" stroke="#000" stroke-width="0.9"/>
<line x1="460.6" y1="338.5" x2="467" y2="338.5" stroke="#000" stroke-width="0.9"/>
<circle cx="463.8" cy="324.5" r="1.2" fill="#b00010" stroke="#000" stroke-width="0.6"/>
<circle cx="461.3" cy="329" r="1.2" fill="#b00010" stroke="#000" stroke-width="0.6"/>
<circle cx="466.3" cy="329.5" r="1.2" fill="#b00010" stroke="#000" stroke-width="0.6"/>
<circle cx="463.2" cy="332" r="1.2" fill="#b00010" stroke="#000" stroke-width="0.6"/>
<circle cx="461" cy="335" r="1.2" fill="#b00010" stroke="#000" stroke-width="0.6"/>
<circle cx="466" cy="334.5" r="1.2" fill="#b00010" stroke="#000" stroke-width="0.6"/>
<circle cx="463.8" cy="337" r="1.2" fill="#b00010" stroke="#000" stroke-width="0.6"/>
<circle cx="462" cy="340" r="1.2" fill="#b00010" stroke="#000" stroke-width="0.6"/>
<circle cx="465.5" cy="339.5" r="1.2" fill="#b00010" stroke="#000" stroke-width="0.6"/>
<line x1="483.6" y1="366.4" x2="483.6" y2="371.5" stroke="#000" stroke-width="0.9"/>
<line x1="480.6" y1="366.4" x2="486.6" y2="366.4" stroke="#000" stroke-width="0.9"/>
<line x1="480.6" y1="371.5" x2="486.6" y2="371.5" stroke="#000" stroke-width="0.9"/>
<circle cx="481" cy="367.2" r="1.2" fill="#0033aa" stroke="#000" stroke-width="0.6"/>
<circle cx="483.6" cy="366.5" r="1.2" fill="#0033aa" stroke="#000" stroke-width="0.6"/>
<circle cx="486" cy="367.5" r="1.2" fill="#0033aa" stroke="#000" stroke-width="0.6"/>
<circle cx="481.8" cy="369.5" r="1.2" fill="#0033aa" stroke="#000" stroke-width="0.6"/>
<circle cx="485.5" cy="370" r="1.2" fill="#0033aa" stroke="#000" stroke-width="0.6"/>
<circle cx="483.6" cy="372" r="1.2" fill="#0033aa" stroke="#000" stroke-width="0.6"/>
<circle cx="480.5" cy="371" r="1.2" fill="#0033aa" stroke="#000" stroke-width="0.6"/>
<circle cx="486.8" cy="369" r="1.2" fill="#0033aa" stroke="#000" stroke-width="0.6"/>
<text transform="translate(421,350.6) rotate(-90) scale(0.81,1)" font-size="9" text-anchor="middle" fill="#2a2a2a" stroke="#2a2a2a" stroke-width="0.06">Relative metabolite</text>
<text transform="translate(431.7,350.6) rotate(-90) scale(0.81,1)" font-size="9" text-anchor="middle" fill="#2a2a2a" stroke="#2a2a2a" stroke-width="0.06">abundance</text>
<text transform="translate(465.7,401.1) rotate(-45)" font-size="7.6" text-anchor="end" fill="#1a1a1a" stroke="#1a1a1a" stroke-width="0.18">DMSO</text>
<text transform="translate(486.5,400.9) rotate(-45)" font-size="7.6" text-anchor="end" fill="#1a1a1a" stroke="#1a1a1a" stroke-width="0.18">MB1-47</text>
<text transform="translate(13.6,442.5) scale(1.12,1)" font-size="10.6" text-anchor="start" fill="#000" font-weight="bold" stroke="#000" stroke-width="0.18">H</text>
<text transform="translate(78.7,457.3)" font-size="9.5" text-anchor="start" fill="#1a1a1a" stroke="#1a1a1a" stroke-width="0.18">Nucleotide biosynthesis</text>
<text transform="translate(81.6,471.6)" font-size="8.4" text-anchor="start" fill="#1a1a1a" stroke="#1a1a1a" stroke-width="0.18">Purines</text>
<text transform="translate(143,471.6)" font-size="8.4" text-anchor="start" fill="#1a1a1a" stroke="#1a1a1a" stroke-width="0.18">Pyrimidines</text>
<line x1="64.3" y1="475.3" x2="126.9" y2="475.3" stroke="#111" stroke-width="1.2"/>
<line x1="131.5" y1="475.3" x2="195" y2="475.3" stroke="#111" stroke-width="1.2"/>
<rect x="41.2" y="499.9" width="5.77" height="8.47" fill="#e3e5f5"/>
<rect x="46.92" y="499.9" width="5.77" height="8.47" fill="#e3e5f5"/>
<rect x="52.64" y="499.9" width="5.77" height="8.47" fill="#f6d2e5"/>
<rect x="58.36" y="499.9" width="5.77" height="8.47" fill="#e3e5f5"/>
<rect x="64.08" y="499.9" width="5.77" height="8.47" fill="#f3f3f3"/>
<rect x="69.8" y="499.9" width="5.77" height="8.47" fill="#f3f3f3"/>
<rect x="75.52" y="499.9" width="5.77" height="8.47" fill="#d2d7f8"/>
<rect x="81.24" y="499.9" width="5.77" height="8.47" fill="#f5e3ec"/>
<rect x="86.96" y="499.9" width="5.77" height="8.47" fill="#f3f3f3"/>
<rect x="92.68" y="499.9" width="5.77" height="8.47" fill="#f3f3f3"/>
<rect x="98.4" y="499.9" width="5.77" height="8.47" fill="#e3e5f5"/>
<rect x="104.12" y="499.9" width="5.77" height="8.47" fill="#f3f3f3"/>
<rect x="109.84" y="499.9" width="5.77" height="8.47" fill="#f5e3ec"/>
<rect x="115.56" y="499.9" width="5.77" height="8.47" fill="#d2d7f8"/>
<rect x="121.28" y="499.9" width="5.77" height="8.47" fill="#f3f3f3"/>
<rect x="127" y="499.9" width="5.77" height="8.47" fill="#f5e3ec"/>
<rect x="132.72" y="499.9" width="5.77" height="8.47" fill="#f5e3ec"/>
<rect x="138.44" y="499.9" width="5.77" height="8.47" fill="#e3e5f5"/>
<rect x="144.16" y="499.9" width="5.77" height="8.47" fill="#e3e5f5"/>
<rect x="149.88" y="499.9" width="5.77" height="8.47" fill="#f5e3ec"/>
<rect x="155.6" y="499.9" width="5.77" height="8.47" fill="#f5e3ec"/>
<rect x="161.32" y="499.9" width="5.77" height="8.47" fill="#e3e5f5"/>
<rect x="167.04" y="499.9" width="5.77" height="8.47" fill="#e3e5f5"/>
<rect x="172.76" y="499.9" width="5.77" height="8.47" fill="#f6d2e5"/>
<rect x="178.48" y="499.9" width="5.77" height="8.47" fill="#f3f3f3"/>
<rect x="184.2" y="499.9" width="5.77" height="8.47" fill="#e3e5f5"/>
<rect x="189.92" y="499.9" width="5.77" height="8.47" fill="#f5e3ec"/>
<rect x="41.2" y="508.32" width="5.77" height="8.47" fill="#f6d2e5"/>
<rect x="46.92" y="508.32" width="5.77" height="8.47" fill="#f3f3f3"/>
<rect x="52.64" y="508.32" width="5.77" height="8.47" fill="#d2d7f8"/>
<rect x="58.36" y="508.32" width="5.77" height="8.47" fill="#d2d7f8"/>
<rect x="64.08" y="508.32" width="5.77" height="8.47" fill="#f6d2e5"/>
<rect x="69.8" y="508.32" width="5.77" height="8.47" fill="#f3f3f3"/>
<rect x="75.52" y="508.32" width="5.77" height="8.47" fill="#e3e5f5"/>
<rect x="81.24" y="508.32" width="5.77" height="8.47" fill="#f5e3ec"/>
<rect x="86.96" y="508.32" width="5.77" height="8.47" fill="#f3f3f3"/>
<rect x="92.68" y="508.32" width="5.77" height="8.47" fill="#f3f3f3"/>
<rect x="98.4" y="508.32" width="5.77" height="8.47" fill="#f3f3f3"/>
<rect x="104.12" y="508.32" width="5.77" height="8.47" fill="#f3f3f3"/>
<rect x="109.84" y="508.32" width="5.77" height="8.47" fill="#f3f3f3"/>
<rect x="115.56" y="508.32" width="5.77" height="8.47" fill="#f3f3f3"/>
<rect x="121.28" y="508.32" width="5.77" height="8.47" fill="#f3f3f3"/>
<rect x="127" y="508.32" width="5.77" height="8.47" fill="#f3f3f3"/>
<rect x="132.72" y="508.32" width="5.77" height="8.47" fill="#f5e3ec"/>
<rect x="138.44" y="508.32" width="5.77" height="8.47" fill="#f3f3f3"/>
<rect x="144.16" y="508.32" width="5.77" height="8.47" fill="#e3e5f5"/>
<rect x="149.88" y="508.32" width="5.77" height="8.47" fill="#f6d2e5"/>
<rect x="155.6" y="508.32" width="5.77" height="8.47" fill="#f3f3f3"/>
<rect x="161.32" y="508.32" width="5.77" height="8.47" fill="#e3e5f5"/>
<rect x="167.04" y="508.32" width="5.77" height="8.47" fill="#f5e3ec"/>
<rect x="172.76" y="508.32" width="5.77" height="8.47" fill="#f3f3f3"/>
<rect x="178.48" y="508.32" width="5.77" height="8.47" fill="#f3f3f3"/>
<rect x="184.2" y="508.32" width="5.77" height="8.47" fill="#f3f3f3"/>
<rect x="189.92" y="508.32" width="5.77" height="8.47" fill="#f3f3f3"/>
<rect x="41.2" y="516.74" width="5.77" height="8.47" fill="#f3f3f3"/>
<rect x="46.92" y="516.74" width="5.77" height="8.47" fill="#f7b7d6"/>
<rect x="52.64" y="516.74" width="5.77" height="8.47" fill="#f7b7d6"/>
<rect x="58.36" y="516.74" width="5.77" height="8.47" fill="#f3f3f3"/>
<rect x="64.08" y="516.74" width="5.77" height="8.47" fill="#e3e5f5"/>
<rect x="69.8" y="516.74" width="5.77" height="8.47" fill="#f3f3f3"/>
<rect x="75.52" y="516.74" width="5.77" height="8.47" fill="#d2d7f8"/>
<rect x="81.24" y="516.74" width="5.77" height="8.47" fill="#f5e3ec"/>
<rect x="86.96" y="516.74" width="5.77" height="8.47" fill="#f3f3f3"/>
<rect x="92.68" y="516.74" width="5.77" height="8.47" fill="#f5e3ec"/>
<rect x="98.4" y="516.74" width="5.77" height="8.47" fill="#b2baf8"/>
<rect x="104.12" y="516.74" width="5.77" height="8.47" fill="#f5e3ec"/>
<rect x="109.84" y="516.74" width="5.77" height="8.47" fill="#f6d2e5"/>
<rect x="115.56" y="516.74" width="5.77" height="8.47" fill="#7780f7"/>
<rect x="121.28" y="516.74" width="5.77" height="8.47" fill="#f6d2e5"/>
<rect x="127" y="516.74" width="5.77" height="8.47" fill="#b2baf8"/>
<rect x="132.72" y="516.74" width="5.77" height="8.47" fill="#f7b7d6"/>
<rect x="138.44" y="516.74" width="5.77" height="8.47" fill="#e3e5f5"/>
<rect x="144.16" y="516.74" width="5.77" height="8.47" fill="#b2baf8"/>
<rect x="149.88" y="516.74" width="5.77" height="8.47" fill="#f3f3f3"/>
<rect x="155.6" y="516.74" width="5.77" height="8.47" fill="#f6d2e5"/>
<rect x="161.32" y="516.74" width="5.77" height="8.47" fill="#f5e3ec"/>
<rect x="167.04" y="516.74" width="5.77" height="8.47" fill="#e3e5f5"/>
<rect x="172.76" y="516.74" width="5.77" height="8.47" fill="#f3f3f3"/>
<rect x="178.48" y="516.74" width="5.77" height="8.47" fill="#f5e3ec"/>
<rect x="184.2" y="516.74" width="5.77" height="8.47" fill="#b2baf8"/>
<rect x="189.92" y="516.74" width="5.77" height="8.47" fill="#f5e3ec"/>
<rect x="41.2" y="525.16" width="5.77" height="8.47" fill="#b2baf8"/>
<rect x="46.92" y="525.16" width="5.77" height="8.47" fill="#b2baf8"/>
<rect x="52.64" y="525.16" width="5.77" height="8.47" fill="#b2baf8"/>
<rect x="58.36" y="525.16" width="5.77" height="8.47" fill="#d2d7f8"/>
<rect x="64.08" y="525.16" width="5.77" height="8.47" fill="#d2d7f8"/>
<rect x="69.8" y="525.16" width="5.77" height="8.47" fill="#f3f3f3"/>
<rect x="75.52" y="525.16" width="5.77" height="8.47" fill="#d2d7f8"/>
<rect x="81.24" y="525.16" width="5.77" height="8.47" fill="#d2d7f8"/>
<rect x="86.96" y="525.16" width="5.77" height="8.47" fill="#f3f3f3"/>
<rect x="92.68" y="525.16" width="5.77" height="8.47" fill="#7780f7"/>
<rect x="98.4" y="525.16" width="5.77" height="8.47" fill="#b2baf8"/>
<rect x="104.12" y="525.16" width="5.77" height="8.47" fill="#b2baf8"/>
<rect x="109.84" y="525.16" width="5.77" height="8.47" fill="#7780f7"/>
<rect x="115.56" y="525.16" width="5.77" height="8.47" fill="#b2baf8"/>
<rect x="121.28" y="525.16" width="5.77" height="8.47" fill="#d2d7f8"/>
<rect x="127" y="525.16" width="5.77" height="8.47" fill="#f88ab7"/>
<rect x="132.72" y="525.16" width="5.77" height="8.47" fill="#f88ab7"/>
<rect x="138.44" y="525.16" width="5.77" height="8.47" fill="#f88ab7"/>
<rect x="144.16" y="525.16" width="5.77" height="8.47" fill="#b2baf8"/>
<rect x="149.88" y="525.16" width="5.77" height="8.47" fill="#d2d7f8"/>
<rect x="155.6" y="525.16" width="5.77" height="8.47" fill="#d2d7f8"/>
<rect x="161.32" y="525.16" width="5.77" height="8.47" fill="#2429f6"/>
<rect x="167.04" y="525.16" width="5.77" height="8.47" fill="#7780f7"/>
<rect x="172.76" y="525.16" width="5.77" height="8.47" fill="#555ef6"/>
<rect x="178.48" y="525.16" width="5.77" height="8.47" fill="#555ef6"/>
<rect x="184.2" y="525.16" width="5.77" height="8.47" fill="#7780f7"/>
<rect x="189.92" y="525.16" width="5.77" height="8.47" fill="#555ef6"/>
<rect x="41.2" y="533.58" width="5.77" height="8.47" fill="#f88ab7"/>
<rect x="46.92" y="533.58" width="5.77" height="8.47" fill="#f88ab7"/>
<rect x="52.64" y="533.58" width="5.77" height="8.47" fill="#f88ab7"/>
<rect x="58.36" y="533.58" width="5.77" height="8.47" fill="#fa578d"/>
<rect x="64.08" y="533.58" width="5.77" height="8.47" fill="#fa578d"/>
<rect x="69.8" y="533.58" width="5.77" height="8.47" fill="#fa578d"/>
<rect x="75.52" y="533.58" width="5.77" height="8.47" fill="#fa578d"/>
<rect x="81.24" y="533.58" width="5.77" height="8.47" fill="#fa578d"/>
<rect x="86.96" y="533.58" width="5.77" height="8.47" fill="#fa578d"/>
<rect x="92.68" y="533.58" width="5.77" height="8.47" fill="#d2d7f8"/>
<rect x="98.4" y="533.58" width="5.77" height="8.47" fill="#b2baf8"/>
<rect x="104.12" y="533.58" width="5.77" height="8.47" fill="#b2baf8"/>
<rect x="109.84" y="533.58" width="5.77" height="8.47" fill="#e3e5f5"/>
<rect x="115.56" y="533.58" width="5.77" height="8.47" fill="#d2d7f8"/>
<rect x="121.28" y="533.58" width="5.77" height="8.47" fill="#d2d7f8"/>
<rect x="127" y="533.58" width="5.77" height="8.47" fill="#f7b7d6"/>
<rect x="132.72" y="533.58" width="5.77" height="8.47" fill="#f7b7d6"/>
<rect x="138.44" y="533.58" width="5.77" height="8.47" fill="#f7b7d6"/>
<rect x="144.16" y="533.58" width="5.77" height="8.47" fill="#f88ab7"/>
<rect x="149.88" y="533.58" width="5.77" height="8.47" fill="#fa578d"/>
<rect x="155.6" y="533.58" width="5.77" height="8.47" fill="#fa578d"/>
<rect x="161.32" y="533.58" width="5.77" height="8.47" fill="#7780f7"/>
<rect x="167.04" y="533.58" width="5.77" height="8.47" fill="#7780f7"/>
<rect x="172.76" y="533.58" width="5.77" height="8.47" fill="#555ef6"/>
<rect x="178.48" y="533.58" width="5.77" height="8.47" fill="#7780f7"/>
<rect x="184.2" y="533.58" width="5.77" height="8.47" fill="#7780f7"/>
<rect x="189.92" y="533.58" width="5.77" height="8.47" fill="#7780f7"/>
<rect x="41.2" y="542" width="5.77" height="8.47" fill="#fa1930"/>
<rect x="46.92" y="542" width="5.77" height="8.47" fill="#fa1930"/>
<rect x="52.64" y="542" width="5.77" height="8.47" fill="#fa1930"/>
<rect x="58.36" y="542" width="5.77" height="8.47" fill="#fa365e"/>
<rect x="64.08" y="542" width="5.77" height="8.47" fill="#fa365e"/>
<rect x="69.8" y="542" width="5.77" height="8.47" fill="#fa365e"/>
<rect x="75.52" y="542" width="5.77" height="8.47" fill="#fa365e"/>
<rect x="81.24" y="542" width="5.77" height="8.47" fill="#fa365e"/>
<rect x="86.96" y="542" width="5.77" height="8.47" fill="#fa365e"/>
<rect x="92.68" y="542" width="5.77" height="8.47" fill="#f3f3f3"/>
<rect x="98.4" y="542" width="5.77" height="8.47" fill="#e3e5f5"/>
<rect x="104.12" y="542" width="5.77" height="8.47" fill="#f3f3f3"/>
<rect x="109.84" y="542" width="5.77" height="8.47" fill="#f3f3f3"/>
<rect x="115.56" y="542" width="5.77" height="8.47" fill="#d2d7f8"/>
<rect x="121.28" y="542" width="5.77" height="8.47" fill="#f3f3f3"/>
<rect x="127" y="542" width="5.77" height="8.47" fill="#fa578d"/>
<rect x="132.72" y="542" width="5.77" height="8.47" fill="#fa365e"/>
<rect x="138.44" y="542" width="5.77" height="8.47" fill="#fa1930"/>
<rect x="144.16" y="542" width="5.77" height="8.47" fill="#fa365e"/>
<rect x="149.88" y="542" width="5.77" height="8.47" fill="#fa365e"/>
<rect x="155.6" y="542" width="5.77" height="8.47" fill="#fa1930"/>
<rect x="161.32" y="542" width="5.77" height="8.47" fill="#d2d7f8"/>
<rect x="167.04" y="542" width="5.77" height="8.47" fill="#d2d7f8"/>
<rect x="172.76" y="542" width="5.77" height="8.47" fill="#d2d7f8"/>
<rect x="178.48" y="542" width="5.77" height="8.47" fill="#e3e5f5"/>
<rect x="184.2" y="542" width="5.77" height="8.47" fill="#e3e5f5"/>
<rect x="189.92" y="542" width="5.77" height="8.47" fill="#f3f3f3"/>
<path d="M46.92,499.9V550.42M52.64,499.9V550.42M58.36,499.9V550.42M64.08,499.9V550.42M69.8,499.9V550.42M75.52,499.9V550.42M81.24,499.9V550.42M86.96,499.9V550.42M92.68,499.9V550.42M98.4,499.9V550.42M104.12,499.9V550.42M109.84,499.9V550.42M115.56,499.9V550.42M121.28,499.9V550.42M127,499.9V550.42M132.72,499.9V550.42M138.44,499.9V550.42M144.16,499.9V550.42M149.88,499.9V550.42M155.6,499.9V550.42M161.32,499.9V550.42M167.04,499.9V550.42M172.76,499.9V550.42M178.48,499.9V550.42M184.2,499.9V550.42M189.92,499.9V550.42M41.2,508.32H195.64M41.2,516.74H195.64M41.2,525.16H195.64M41.2,533.58H195.64M41.2,542H195.64" stroke="#4a4a4a" stroke-width="0.6" fill="none"/>
<rect x="41.2" y="499.9" width="154.44" height="50.52" fill="none" stroke="#4a4a4a" stroke-width="0.8"/>
<text transform="translate(37.6,517)" font-size="9" text-anchor="end" fill="#222" stroke="#222" stroke-width="0.18">DMSO</text>
<text transform="translate(36.6,542)" font-size="9" text-anchor="end" fill="#222" stroke="#222" stroke-width="0.18">MB1-47</text>
<line x1="38.9" y1="502" x2="38.9" y2="524.5" stroke="#111" stroke-width="1.3"/>
<line x1="38.9" y1="527" x2="38.9" y2="548.8" stroke="#111" stroke-width="1.3"/>
<text transform="translate(48.5,496.2) rotate(-45)" font-size="8.7" text-anchor="start" fill="#222" stroke="#222" stroke-width="0.18">IMP</text>
<text transform="translate(65.66,496.2) rotate(-45)" font-size="8.7" text-anchor="start" fill="#222" stroke="#222" stroke-width="0.18">AMP</text>
<text transform="translate(82.82,496.2) rotate(-45)" font-size="8.7" text-anchor="start" fill="#222" stroke="#222" stroke-width="0.18">GMP</text>
<text transform="translate(99.98,496.2) rotate(-45)" font-size="8.7" text-anchor="start" fill="#222" stroke="#222" stroke-width="0.18">ATP</text>
<text transform="translate(117.14,496.2) rotate(-45)" font-size="8.7" text-anchor="start" fill="#222" stroke="#222" stroke-width="0.18">GTP</text>
<text transform="translate(134.3,496.2) rotate(-45)" font-size="8.7" text-anchor="start" fill="#222" stroke="#222" stroke-width="0.18">CMP</text>
<text transform="translate(151.46,496.2) rotate(-45)" font-size="8.7" text-anchor="start" fill="#222" stroke="#222" stroke-width="0.18">UMP</text>
<text transform="translate(168.62,496.2) rotate(-45)" font-size="8.7" text-anchor="start" fill="#222" stroke="#222" stroke-width="0.18">CTP</text>
<text transform="translate(185.78,496.2) rotate(-45)" font-size="8.7" text-anchor="start" fill="#222" stroke="#222" stroke-width="0.18">UTP</text>
<text transform="translate(126.9,562.5)" font-size="8.5" text-anchor="start" fill="#222" stroke="#222" stroke-width="0.18">Fold change (log<tspan font-size="5.5" dy="1.8">2</tspan><tspan dy="-1.8">)</tspan></text>
<defs><linearGradient id="cb127" x1="0" x2="1" y1="0" y2="0"><stop offset="0" stop-color="#161af6"/><stop offset="0.12" stop-color="#5c66f6"/><stop offset="0.25" stop-color="#a0a8f8"/><stop offset="0.38" stop-color="#ced4f8"/><stop offset="0.5" stop-color="#f3f3f3"/><stop offset="0.62" stop-color="#f7cce2"/><stop offset="0.75" stop-color="#f898c3"/><stop offset="0.88" stop-color="#fa5087"/><stop offset="1" stop-color="#fa0e20"/></linearGradient></defs>
<rect x="127.4" y="567.3" width="67.2" height="10" fill="url(#cb127)" stroke="#222" stroke-width="0.9"/>
<line x1="127.4" y1="577.3" x2="127.4" y2="579.7" stroke="#222" stroke-width="0.9"/>
<line x1="161" y1="577.3" x2="161" y2="579.7" stroke="#222" stroke-width="0.9"/>
<line x1="194.6" y1="577.3" x2="194.6" y2="579.7" stroke="#222" stroke-width="0.9"/>
<text transform="translate(127.4,586.9)" font-size="7.5" text-anchor="middle" fill="#222" stroke="#222" stroke-width="0.18">–2</text>
<text transform="translate(161,586.9)" font-size="7.5" text-anchor="middle" fill="#222" stroke="#222" stroke-width="0.18">0</text>
<text transform="translate(194.1,586.9)" font-size="7.5" text-anchor="middle" fill="#222" stroke="#222" stroke-width="0.18">+2</text>
<text transform="translate(210.2,442)" font-size="10" text-anchor="start" fill="#000" font-weight="bold" stroke="#000" stroke-width="0.18">I</text>
<line x1="256.8" y1="464" x2="256.8" y2="558.7" stroke="#000" stroke-width="1.4"/>
<line x1="254.2" y1="464.5" x2="256.8" y2="464.5" stroke="#000" stroke-width="1.4"/>
<text transform="translate(250.2,467.4)" font-size="8" text-anchor="end" fill="#1a1a1a" stroke="#1a1a1a" stroke-width="0.18">1.5</text>
<line x1="254.2" y1="495.7" x2="256.8" y2="495.7" stroke="#000" stroke-width="1.4"/>
<text transform="translate(250.2,498.6)" font-size="8" text-anchor="end" fill="#1a1a1a" stroke="#1a1a1a" stroke-width="0.18">1.0</text>
<line x1="254.2" y1="527" x2="256.8" y2="527" stroke="#000" stroke-width="1.4"/>
<text transform="translate(250.2,529.9)" font-size="8" text-anchor="end" fill="#1a1a1a" stroke="#1a1a1a" stroke-width="0.18">0.5</text>
<line x1="254.2" y1="558.2" x2="256.8" y2="558.2" stroke="#000" stroke-width="1.4"/>
<text transform="translate(250.2,561.1)" font-size="8" text-anchor="end" fill="#1a1a1a" stroke="#1a1a1a" stroke-width="0.18">0.0</text>
<rect x="263" y="458.8" width="4.3" height="4.3" fill="#c8001a"/>
<text transform="translate(269.5,464)" font-size="7.9" text-anchor="start" fill="#222" stroke="#222" stroke-width="0.18">DMSO</text>
<rect x="263" y="466.8" width="4.3" height="4.3" fill="#0033aa"/>
<text transform="translate(269.5,472)" font-size="7.9" text-anchor="start" fill="#222" stroke="#222" stroke-width="0.18">MB1-47</text>
<rect x="263.1" y="495.4" width="13" height="62.8" fill="#c8001a"/>
<rect x="283.1" y="526.3" width="13.1" height="31.9" fill="#0033aa"/>
<rect x="303.5" y="495.4" width="12.9" height="62.8" fill="#c8001a"/>
<rect x="323.1" y="527.3" width="13.4" height="30.9" fill="#0033aa"/>
<line x1="256.8" y1="558.2" x2="343.7" y2="558.2" stroke="#000" stroke-width="1.4"/>
<line x1="269.6" y1="558.2" x2="269.6" y2="561.5" stroke="#000" stroke-width="1.3"/>
<line x1="289.7" y1="558.2" x2="289.7" y2="561.5" stroke="#000" stroke-width="1.3"/>
<line x1="309.9" y1="558.2" x2="309.9" y2="561.5" stroke="#000" stroke-width="1.3"/>
<line x1="329.8" y1="558.2" x2="329.8" y2="561.5" stroke="#000" stroke-width="1.3"/>
<line x1="268.8" y1="486.3" x2="289.4" y2="486.3" stroke="#000" stroke-width="1.2"/>
<polygon points="274.95,480.95 275.51,482.13 276.80,482.30 275.85,483.19 276.10,484.48 274.95,483.85 273.80,484.48 274.05,483.19 273.10,482.30 274.39,482.13" fill="#111"/>
<polygon points="279.10,480.95 279.66,482.13 280.95,482.30 280.00,483.19 280.25,484.48 279.10,483.85 277.95,484.48 278.20,483.19 277.25,482.30 278.54,482.13" fill="#111"/>
<polygon points="283.25,480.95 283.81,482.13 285.10,482.30 284.15,483.19 284.40,484.48 283.25,483.85 282.10,484.48 282.35,483.19 281.40,482.30 282.69,482.13" fill="#111"/>
<line x1="309.6" y1="488.3" x2="330.2" y2="488.3" stroke="#000" stroke-width="1.2"/>
<polygon points="315.75,482.95 316.31,484.13 317.60,484.30 316.65,485.19 316.90,486.48 315.75,485.85 314.60,486.48 314.85,485.19 313.90,484.30 315.19,484.13" fill="#111"/>
<polygon points="319.90,482.95 320.46,484.13 321.75,484.30 320.80,485.19 321.05,486.48 319.90,485.85 318.75,486.48 319.00,485.19 318.05,484.30 319.34,484.13" fill="#111"/>
<polygon points="324.05,482.95 324.61,484.13 325.90,484.30 324.95,485.19 325.20,486.48 324.05,485.85 322.90,486.48 323.15,485.19 322.20,484.30 323.49,484.13" fill="#111"/>
<line x1="269.6" y1="494" x2="269.6" y2="497" stroke="#000" stroke-width="0.9"/>
<line x1="267.1" y1="494" x2="272.1" y2="494" stroke="#000" stroke-width="0.9"/>
<line x1="267.1" y1="497" x2="272.1" y2="497" stroke="#000" stroke-width="0.9"/>
<line x1="309.9" y1="494" x2="309.9" y2="497" stroke="#000" stroke-width="0.9"/>
<line x1="307.4" y1="494" x2="312.4" y2="494" stroke="#000" stroke-width="0.9"/>
<line x1="307.4" y1="497" x2="312.4" y2="497" stroke="#000" stroke-width="0.9"/>
<circle cx="264.6" cy="494.87" r="1.5" fill="#e00010" stroke="#000" stroke-width="0.7"/>
<circle cx="266.3" cy="495.61" r="1.5" fill="#e00010" stroke="#000" stroke-width="0.7"/>
<circle cx="268" cy="495.19" r="1.5" fill="#e00010" stroke="#000" stroke-width="0.7"/>
<circle cx="269.6" cy="495.75" r="1.5" fill="#e00010" stroke="#000" stroke-width="0.7"/>
<circle cx="271.2" cy="495.8" r="1.5" fill="#e00010" stroke="#000" stroke-width="0.7"/>
<circle cx="272.9" cy="494.46" r="1.5" fill="#e00010" stroke="#000" stroke-width="0.7"/>
<circle cx="274.6" cy="494.33" r="1.5" fill="#e00010" stroke="#000" stroke-width="0.7"/>
<circle cx="304.9" cy="496.31" r="1.5" fill="#e00010" stroke="#000" stroke-width="0.7"/>
<circle cx="306.6" cy="494.92" r="1.5" fill="#e00010" stroke="#000" stroke-width="0.7"/>
<circle cx="308.3" cy="494.86" r="1.5" fill="#e00010" stroke="#000" stroke-width="0.7"/>
<circle cx="309.9" cy="496.69" r="1.5" fill="#e00010" stroke="#000" stroke-width="0.7"/>
<circle cx="311.5" cy="495.43" r="1.5" fill="#e00010" stroke="#000" stroke-width="0.7"/>
<circle cx="313.2" cy="496.31" r="1.5" fill="#e00010" stroke="#000" stroke-width="0.7"/>
<circle cx="314.9" cy="495.44" r="1.5" fill="#e00010" stroke="#000" stroke-width="0.7"/>
<line x1="289.7" y1="514.8" x2="289.7" y2="541" stroke="#000" stroke-width="0.9"/>
<line x1="286.7" y1="514.8" x2="292.7" y2="514.8" stroke="#000" stroke-width="0.9"/>
<line x1="286.7" y1="541" x2="292.7" y2="541" stroke="#000" stroke-width="0.9"/>
<rect x="285.05" y="509.85" width="2.9" height="2.9" fill="#0a3ee0" stroke="#000" stroke-width="0.75"/>
<rect x="290.85" y="508.55" width="2.9" height="2.9" fill="#0a3ee0" stroke="#000" stroke-width="0.75"/>
<rect x="288.05" y="513.35" width="2.9" height="2.9" fill="#0a3ee0" stroke="#000" stroke-width="0.75"/>
<rect x="285.55" y="521.55" width="2.9" height="2.9" fill="#0a3ee0" stroke="#000" stroke-width="0.75"/>
<rect x="290.55" y="522.55" width="2.9" height="2.9" fill="#0a3ee0" stroke="#000" stroke-width="0.75"/>
<rect x="288.25" y="526.55" width="2.9" height="2.9" fill="#0a3ee0" stroke="#000" stroke-width="0.75"/>
<rect x="285.55" y="530.05" width="2.9" height="2.9" fill="#0a3ee0" stroke="#000" stroke-width="0.75"/>
<rect x="290.85" y="530.55" width="2.9" height="2.9" fill="#0a3ee0" stroke="#000" stroke-width="0.75"/>
<rect x="286.05" y="534.55" width="2.9" height="2.9" fill="#0a3ee0" stroke="#000" stroke-width="0.75"/>
<rect x="290.05" y="536.55" width="2.9" height="2.9" fill="#0a3ee0" stroke="#000" stroke-width="0.75"/>
<line x1="329.8" y1="519.5" x2="329.8" y2="535" stroke="#000" stroke-width="0.9"/>
<line x1="326.8" y1="519.5" x2="332.8" y2="519.5" stroke="#000" stroke-width="0.9"/>
<line x1="326.8" y1="535" x2="332.8" y2="535" stroke="#000" stroke-width="0.9"/>
<rect x="326.45" y="518.95" width="2.9" height="2.9" fill="#0a3ee0" stroke="#000" stroke-width="0.75"/>
<rect x="330.05" y="520.55" width="2.9" height="2.9" fill="#0a3ee0" stroke="#000" stroke-width="0.75"/>
<rect x="325.05" y="523.05" width="2.9" height="2.9" fill="#0a3ee0" stroke="#000" stroke-width="0.75"/>
<rect x="328.55" y="524.55" width="2.9" height="2.9" fill="#0a3ee0" stroke="#000" stroke-width="0.75"/>
<rect x="331.55" y="526.55" width="2.9" height="2.9" fill="#0a3ee0" stroke="#000" stroke-width="0.75"/>
<rect x="325.55" y="527.55" width="2.9" height="2.9" fill="#0a3ee0" stroke="#000" stroke-width="0.75"/>
<rect x="328.35" y="529.55" width="2.9" height="2.9" fill="#0a3ee0" stroke="#000" stroke-width="0.75"/>
<rect x="331.75" y="530.55" width="2.9" height="2.9" fill="#0a3ee0" stroke="#000" stroke-width="0.75"/>
<rect x="324.75" y="531.55" width="2.9" height="2.9" fill="#0a3ee0" stroke="#000" stroke-width="0.75"/>
<rect x="329.05" y="533.05" width="2.9" height="2.9" fill="#0a3ee0" stroke="#000" stroke-width="0.75"/>
<text transform="translate(224.6,506.6) rotate(-90) scale(0.81,1)" font-size="9" text-anchor="middle" fill="#2a2a2a" stroke="#2a2a2a" stroke-width="0.06">Relative metabolite</text>
<text transform="translate(236,506.6) rotate(-90) scale(0.81,1)" font-size="9" text-anchor="middle" fill="#2a2a2a" stroke="#2a2a2a" stroke-width="0.06">abundance</text>
<text transform="translate(280,568.8) rotate(-45)" font-size="7.6" text-anchor="end" fill="#1a1a1a" stroke="#1a1a1a" stroke-width="0.18">UDP-glucose</text>
<text transform="translate(322.3,563.8) rotate(-45)" font-size="7.6" text-anchor="end" fill="#1a1a1a" stroke="#1a1a1a" stroke-width="0.18">UDP-N-acetyl-</text>
<text transform="translate(326.1,577) rotate(-45)" font-size="7.6" text-anchor="end" fill="#1a1a1a" stroke="#1a1a1a" stroke-width="0.18">glucosamine</text>
<text transform="translate(348.6,437.3)" font-size="10.6" text-anchor="start" fill="#000" font-weight="bold" stroke="#000" stroke-width="0.18">J</text>
<defs><filter id="bl" x="-20%" y="-80%" width="140%" height="260%"><feGaussianBlur stdDeviation="0.45"/></filter><filter id="bl2" x="-20%" y="-50%" width="140%" height="200%"><feGaussianBlur stdDeviation="0.5"/></filter></defs>
<rect x="402.55" y="430.65" width="108.9" height="19.4" fill="#687f81" stroke="#050505" stroke-width="1.3"/>
<text transform="translate(398.9,443.45) scale(1.03,1)" font-size="9" text-anchor="end" fill="#1a1a1a" stroke="#1a1a1a" stroke-width="0.18">p-AMPK</text>
<rect x="402.55" y="453.05" width="108.9" height="19" fill="#687f81" stroke="#050505" stroke-width="1.3"/>
<text transform="translate(398.9,465.65) scale(1.03,1)" font-size="9" text-anchor="end" fill="#1a1a1a" stroke="#1a1a1a" stroke-width="0.18">AMPK</text>
<rect x="402.55" y="475.55" width="108.9" height="18.8" fill="#687f81" stroke="#050505" stroke-width="1.3"/>
<text transform="translate(398.9,488.05) scale(1.03,1)" font-size="9" text-anchor="end" fill="#1a1a1a" stroke="#1a1a1a" stroke-width="0.18">p-ACC</text>
<rect x="402.55" y="497.85" width="108.9" height="18.7" fill="#687f81" stroke="#050505" stroke-width="1.3"/>
<text transform="translate(398.9,510.3) scale(1.03,1)" font-size="9" text-anchor="end" fill="#1a1a1a" stroke="#1a1a1a" stroke-width="0.18">ACC</text>
<rect x="402.55" y="520.15" width="108.9" height="18.8" fill="#93948f" stroke="#050505" stroke-width="1.3"/>
<text transform="translate(398.9,532.65) scale(1.03,1)" font-size="9" text-anchor="end" fill="#1a1a1a" stroke="#1a1a1a" stroke-width="0.18">p-4E-BP1</text>
<rect x="402.55" y="542.25" width="108.9" height="18.5" fill="#687f81" stroke="#050505" stroke-width="1.3"/>
<text transform="translate(398.9,554.6) scale(1.03,1)" font-size="9" text-anchor="end" fill="#1a1a1a" stroke="#1a1a1a" stroke-width="0.18">4E-BP1</text>
<rect x="402.55" y="564.65" width="108.9" height="19.1" fill="#687f81" stroke="#050505" stroke-width="1.3"/>
<text transform="translate(398.9,577.3) scale(1.03,1)" font-size="9" text-anchor="end" fill="#1a1a1a" stroke="#1a1a1a" stroke-width="0.18">β-Actin</text>
<rect x="407.55" y="439.7" width="15.5" height="3" rx="1.2" fill="#050808" opacity="0.16" filter="url(#bl)"/>
<rect x="425.9" y="440" width="15" height="1.6" rx="0.8" fill="#050808" opacity="0.25" filter="url(#bl)"/>
<rect x="425.9" y="442.1" width="15" height="1.8" rx="0.8" fill="#050808" opacity="0.28" filter="url(#bl)"/>
<rect x="442.8" y="438.5" width="15.6" height="5" rx="1.6" fill="#050808" opacity="0.97" filter="url(#bl)"/>
<rect x="459.5" y="438.6" width="15.6" height="4.4" rx="1.5" fill="#050808" opacity="0.95" filter="url(#bl)"/>
<rect x="477.2" y="439.1" width="15.4" height="2.6" rx="1" fill="#050808" opacity="0.85" filter="url(#bl)"/>
<rect x="477.4" y="442.1" width="15" height="1.6" rx="0.8" fill="#050808" opacity="0.35" filter="url(#bl)"/>
<rect x="494.8" y="438.7" width="15.4" height="4.2" rx="1.4" fill="#050808" opacity="0.8" filter="url(#bl)"/>
<rect x="407" y="459.8" width="16.6" height="2.8" rx="1.4" fill="#050808" opacity="1" filter="url(#bl)"/>
<rect x="425.1" y="459.8" width="16.6" height="2.8" rx="1.4" fill="#050808" opacity="1" filter="url(#bl)"/>
<rect x="442.3" y="459.8" width="16.6" height="2.8" rx="1.4" fill="#050808" opacity="1" filter="url(#bl)"/>
<rect x="459" y="459.8" width="16.6" height="2.8" rx="1.4" fill="#050808" opacity="1" filter="url(#bl)"/>
<rect x="476.6" y="459.8" width="16.6" height="2.8" rx="1.4" fill="#050808" opacity="1" filter="url(#bl)"/>
<rect x="494.2" y="459.8" width="16.6" height="2.8" rx="1.4" fill="#050808" opacity="1" filter="url(#bl)"/>
<rect x="442.8" y="483.4" width="15.6" height="3.2" rx="1.6" fill="#050808" opacity="1" filter="url(#bl)"/>
<rect x="459.5" y="484.2" width="15.6" height="2.8" rx="1.4" fill="#050808" opacity="1" filter="url(#bl)"/>
<rect x="477.1" y="484.2" width="15.6" height="2.8" rx="1.4" fill="#050808" opacity="1" filter="url(#bl)"/>
<rect x="494.7" y="484.2" width="15.6" height="2.8" rx="1.4" fill="#050808" opacity="1" filter="url(#bl)"/>
<path d="M408,505 Q416,504.4 423,504.1 L423,505.9 Q416,505.6 408,505.2Z" fill="#050808" opacity="0.7" filter="url(#bl)"/>
<rect x="425.5" y="502.9" width="15.8" height="3.6" rx="1.8" fill="#050808" opacity="1" filter="url(#bl)"/>
<rect x="442.7" y="502.9" width="15.8" height="3.6" rx="1.8" fill="#050808" opacity="1" filter="url(#bl)"/>
<rect x="459.4" y="504.05" width="15.8" height="3.1" rx="1.55" fill="#050808" opacity="1" filter="url(#bl)"/>
<rect x="477" y="504.05" width="15.8" height="3.1" rx="1.55" fill="#050808" opacity="1" filter="url(#bl)"/>
<rect x="494.6" y="504.05" width="15.8" height="3.1" rx="1.55" fill="#050808" opacity="1" filter="url(#bl)"/>
<rect x="407.4" y="522.9" width="15.8" height="9" rx="2" fill="#050808" opacity="0.55" filter="url(#bl)"/>
<rect x="407.7" y="523.3" width="15.2" height="1.8" rx="0.8" fill="#050808" opacity="0.5" filter="url(#bl)"/>
<rect x="407.4" y="527.4" width="15.8" height="4.4" rx="1.8" fill="#050808" opacity="0.92" filter="url(#bl)"/>
<rect x="425.5" y="522.9" width="15.8" height="9" rx="2" fill="#050808" opacity="0.55" filter="url(#bl)"/>
<rect x="425.8" y="523.3" width="15.2" height="1.8" rx="0.8" fill="#050808" opacity="0.5" filter="url(#bl)"/>
<rect x="425.5" y="527.4" width="15.8" height="4.4" rx="1.8" fill="#050808" opacity="0.92" filter="url(#bl)"/>
<rect x="442.7" y="522.9" width="15.8" height="9" rx="2" fill="#050808" opacity="0.42" filter="url(#bl)"/>
<rect x="443" y="523.3" width="15.2" height="1.8" rx="0.8" fill="#050808" opacity="0.2" filter="url(#bl)"/>
<rect x="442.7" y="527.4" width="15.8" height="4.4" rx="1.8" fill="#050808" opacity="0.92" filter="url(#bl)"/>
<rect x="459.4" y="522.9" width="15.8" height="9" rx="2" fill="#050808" opacity="0.42" filter="url(#bl)"/>
<rect x="459.7" y="523.3" width="15.2" height="1.8" rx="0.8" fill="#050808" opacity="0.2" filter="url(#bl)"/>
<rect x="459.4" y="527.4" width="15.8" height="4.4" rx="1.8" fill="#050808" opacity="0.92" filter="url(#bl)"/>
<rect x="477" y="522.9" width="15.8" height="9" rx="2" fill="#050808" opacity="0.42" filter="url(#bl)"/>
<rect x="477.3" y="523.3" width="15.2" height="1.8" rx="0.8" fill="#050808" opacity="0.2" filter="url(#bl)"/>
<rect x="477" y="527.4" width="15.8" height="4.4" rx="1.8" fill="#050808" opacity="0.92" filter="url(#bl)"/>
<rect x="494.6" y="522.9" width="15.8" height="9" rx="2" fill="#050808" opacity="0.42" filter="url(#bl)"/>
<rect x="494.9" y="523.3" width="15.2" height="1.8" rx="0.8" fill="#050808" opacity="0.2" filter="url(#bl)"/>
<rect x="494.6" y="527.4" width="15.8" height="4.4" rx="1.8" fill="#050808" opacity="0.92" filter="url(#bl)"/>
<rect x="406.5" y="545.9" width="17.6" height="10.6" rx="3" fill="#050808" opacity="1" filter="url(#bl2)"/>
<rect x="424.6" y="546.3" width="17.6" height="10.6" rx="3" fill="#050808" opacity="1" filter="url(#bl2)"/>
<rect x="441.8" y="546.7" width="17.6" height="10.6" rx="3" fill="#050808" opacity="1" filter="url(#bl2)"/>
<rect x="458.5" y="546.5" width="17.6" height="10.6" rx="3" fill="#050808" opacity="1" filter="url(#bl2)"/>
<rect x="476.1" y="546.3" width="17.6" height="10.6" rx="3" fill="#050808" opacity="1" filter="url(#bl2)"/>
<rect x="493.7" y="546.1" width="17.6" height="10.6" rx="3" fill="#050808" opacity="1" filter="url(#bl2)"/>
<rect x="406.5" y="573.1" width="17.6" height="2.8" rx="1.4" fill="#050808" opacity="1" filter="url(#bl)"/>
<rect x="424.6" y="573.1" width="17.6" height="2.8" rx="1.4" fill="#050808" opacity="1" filter="url(#bl)"/>
<rect x="441.8" y="573.1" width="17.6" height="2.8" rx="1.4" fill="#050808" opacity="1" filter="url(#bl)"/>
<rect x="458.5" y="573.1" width="17.6" height="2.8" rx="1.4" fill="#050808" opacity="1" filter="url(#bl)"/>
<rect x="476.1" y="573.1" width="17.6" height="2.8" rx="1.4" fill="#050808" opacity="1" filter="url(#bl)"/>
<rect x="493.7" y="573.1" width="17.6" height="2.8" rx="1.4" fill="#050808" opacity="1" filter="url(#bl)"/>
<text transform="translate(400.5,594)" font-size="8.3" text-anchor="end" fill="#1a1a1a" stroke="#1a1a1a" stroke-width="0.18">MB1-47:</text>
<text transform="translate(400.5,603)" font-size="8.3" text-anchor="end" fill="#1a1a1a" stroke="#1a1a1a" stroke-width="0.18">Time (h):</text>
<text transform="translate(415,594)" font-size="8.3" text-anchor="middle" fill="#1a1a1a" stroke="#1a1a1a" stroke-width="0.18">–</text>
<text transform="translate(415,603)" font-size="8.3" text-anchor="middle" fill="#1a1a1a" stroke="#1a1a1a" stroke-width="0.18">2</text>
<text transform="translate(434.2,594)" font-size="8.3" text-anchor="middle" fill="#1a1a1a" stroke="#1a1a1a" stroke-width="0.18">–</text>
<text transform="translate(434.2,603)" font-size="8.3" text-anchor="middle" fill="#1a1a1a" stroke="#1a1a1a" stroke-width="0.18">4</text>
<text transform="translate(451.2,594)" font-size="8.3" text-anchor="middle" fill="#1a1a1a" stroke="#1a1a1a" stroke-width="0.18">+</text>
<text transform="translate(451.2,603)" font-size="8.3" text-anchor="middle" fill="#1a1a1a" stroke="#1a1a1a" stroke-width="0.18">2</text>
<text transform="translate(469.7,594)" font-size="8.3" text-anchor="middle" fill="#1a1a1a" stroke="#1a1a1a" stroke-width="0.18">+</text>
<text transform="translate(469.7,603)" font-size="8.3" text-anchor="middle" fill="#1a1a1a" stroke="#1a1a1a" stroke-width="0.18">2</text>
<text transform="translate(485.8,594)" font-size="8.3" text-anchor="middle" fill="#1a1a1a" stroke="#1a1a1a" stroke-width="0.18">+</text>
<text transform="translate(485.8,603)" font-size="8.3" text-anchor="middle" fill="#1a1a1a" stroke="#1a1a1a" stroke-width="0.18">4</text>
<text transform="translate(504.3,594)" font-size="8.3" text-anchor="middle" fill="#1a1a1a" stroke="#1a1a1a" stroke-width="0.18">+</text>
<text transform="translate(504.3,603)" font-size="8.3" text-anchor="middle" fill="#1a1a1a" stroke="#1a1a1a" stroke-width="0.18">4</text>
<rect x="0.7" y="0.55" width="518.6" height="611.7" fill="none" stroke="#000" stroke-width="1.4"/>
</svg></body></html>
